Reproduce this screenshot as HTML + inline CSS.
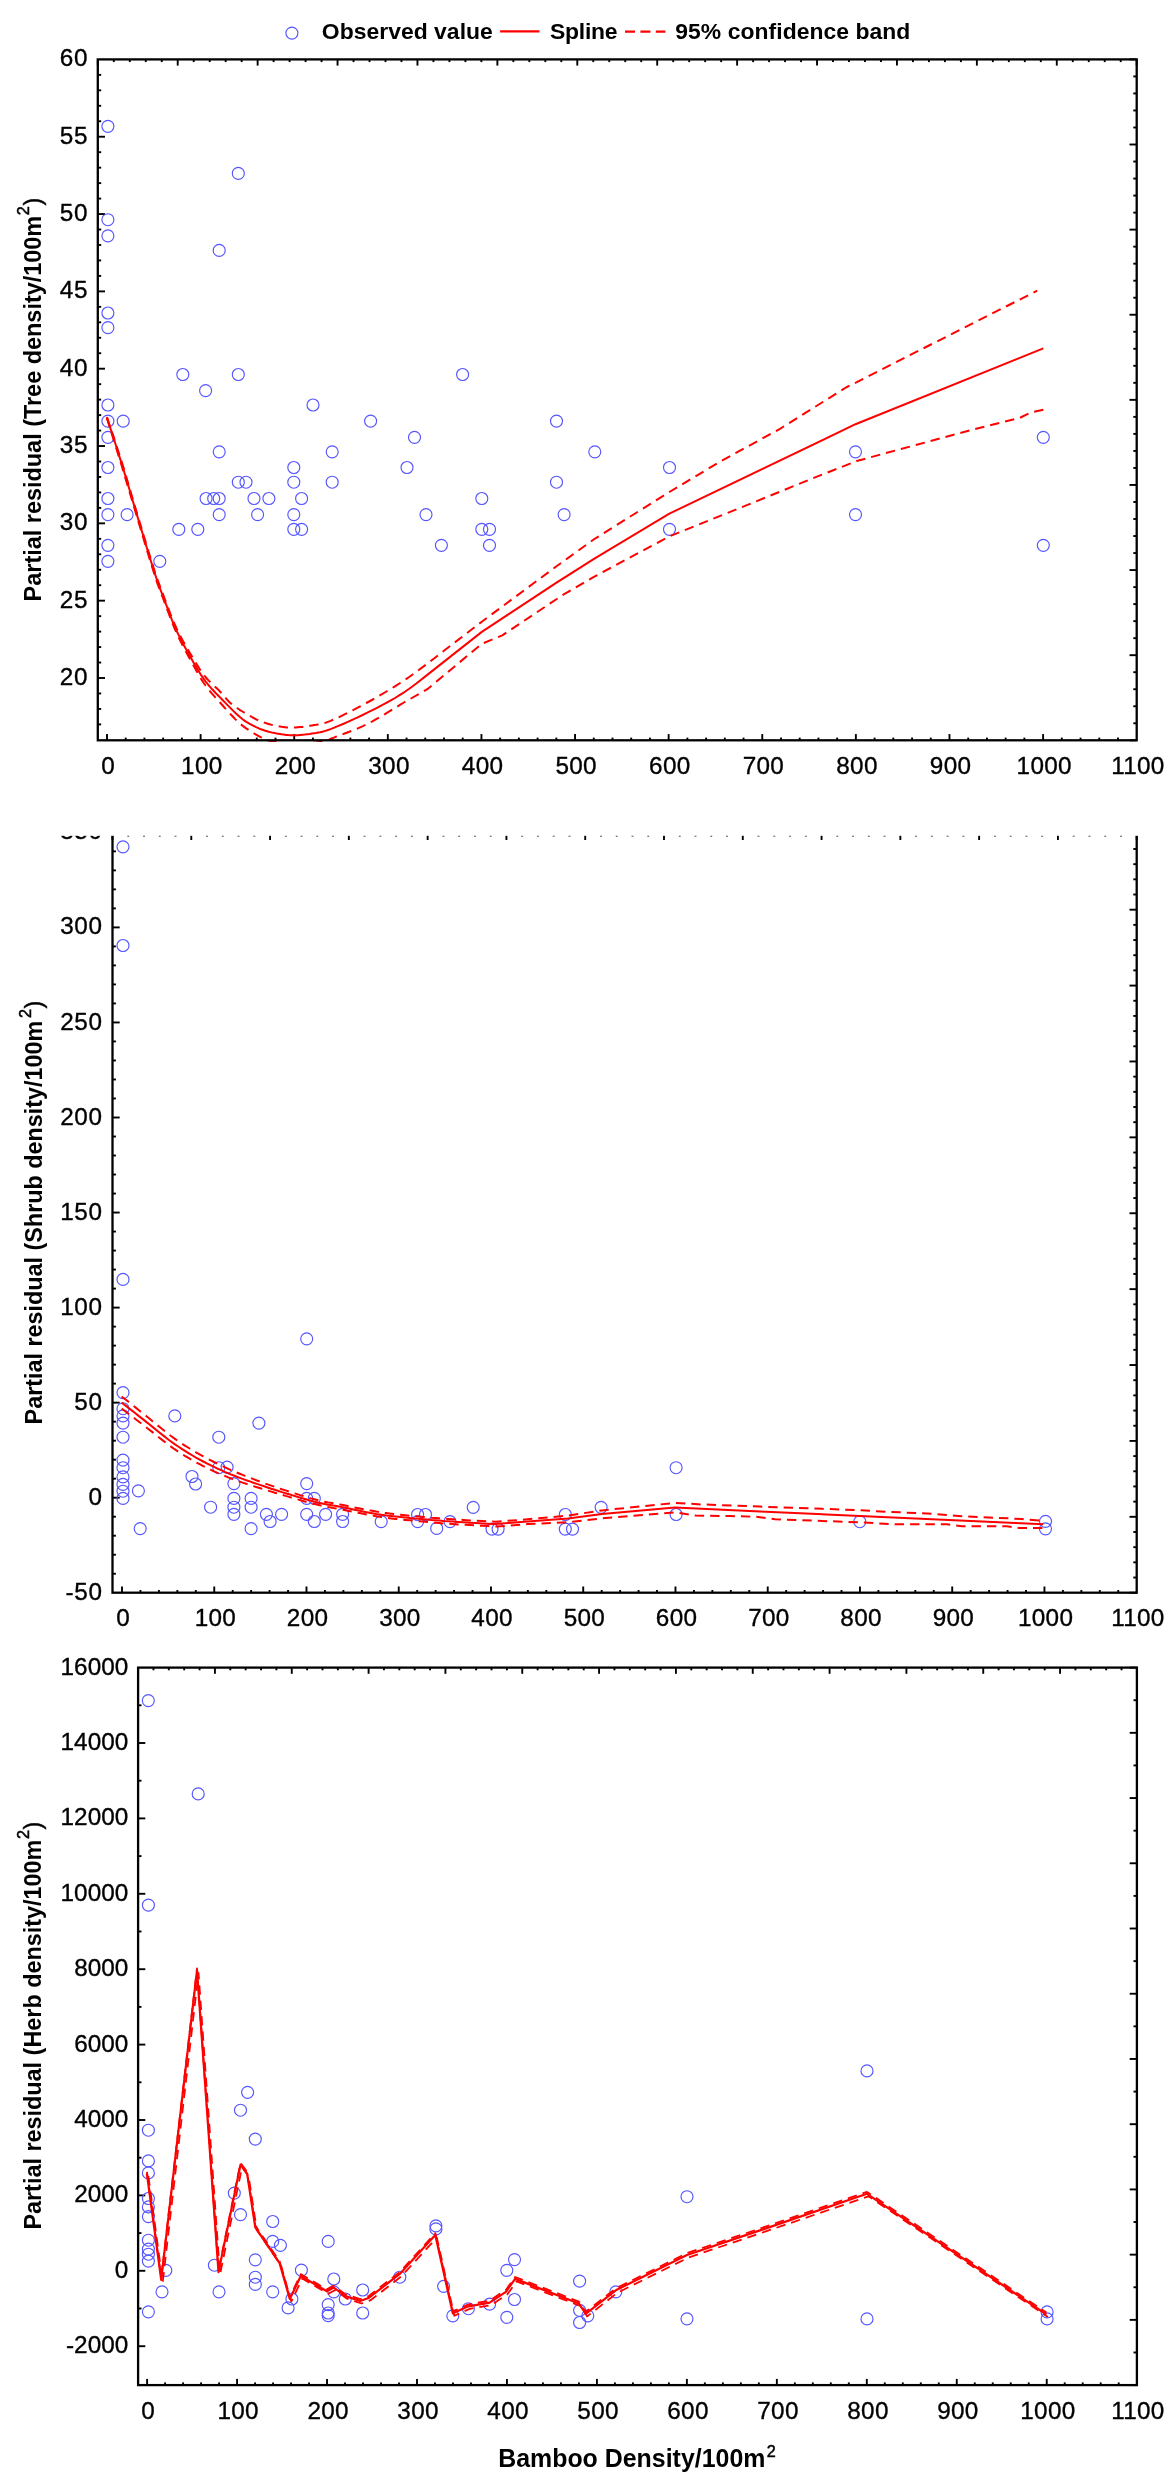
<!DOCTYPE html>
<html lang="en"><head><meta charset="utf-8"><title>Partial residual plots</title>
<style>html,body{margin:0;padding:0;background:#fff}svg{display:block}</style></head>
<body>
<svg width="1173" height="2482" viewBox="0 0 1173 2482">
<defs><clipPath id="c1"><rect x="90" y="50" width="1060" height="692"/></clipPath><filter id="soft" x="0" y="0" width="1173" height="2482" filterUnits="userSpaceOnUse"><feGaussianBlur stdDeviation="0.45"/></filter></defs>
<rect width="1173" height="2482" fill="#fff"/>
<g filter="url(#soft)">
<circle cx="291.9" cy="33.1" r="6" fill="none" stroke="#5555ff" stroke-width="1.15"/>
<text x="321.8" y="38.7" text-anchor="start" font-size="22.9" font-family="&apos;Liberation Sans&apos;, sans-serif" font-weight="bold" textLength="171">Observed value</text>
<line x1="500.10" y1="31.40" x2="539.50" y2="31.40" stroke="#ff0000" stroke-width="2.2"/>
<text x="550.0" y="38.7" text-anchor="start" font-size="22.9" font-family="&apos;Liberation Sans&apos;, sans-serif" font-weight="bold" textLength="67.6">Spline</text>
<line x1="625" y1="31.6" x2="665.4" y2="31.6" stroke="#ff0000" stroke-width="2.2" stroke-dasharray="10 5.4"/>
<text x="675.3" y="38.7" text-anchor="start" font-size="22.9" font-family="&apos;Liberation Sans&apos;, sans-serif" font-weight="bold" textLength="235">95% confidence band</text>
<line x1="97.80" y1="724.39" x2="101.20" y2="724.39" stroke="#000" stroke-width="1.9"/>
<line x1="97.80" y1="708.93" x2="101.20" y2="708.93" stroke="#000" stroke-width="1.9"/>
<line x1="97.80" y1="693.47" x2="101.20" y2="693.47" stroke="#000" stroke-width="1.9"/>
<line x1="97.80" y1="678.00" x2="105.00" y2="678.00" stroke="#000" stroke-width="1.9"/>
<line x1="97.80" y1="662.53" x2="101.20" y2="662.53" stroke="#000" stroke-width="1.9"/>
<line x1="97.80" y1="647.07" x2="101.20" y2="647.07" stroke="#000" stroke-width="1.9"/>
<line x1="97.80" y1="631.61" x2="101.20" y2="631.61" stroke="#000" stroke-width="1.9"/>
<line x1="97.80" y1="616.14" x2="101.20" y2="616.14" stroke="#000" stroke-width="1.9"/>
<line x1="97.80" y1="600.67" x2="105.00" y2="600.67" stroke="#000" stroke-width="1.9"/>
<line x1="97.80" y1="585.21" x2="101.20" y2="585.21" stroke="#000" stroke-width="1.9"/>
<line x1="97.80" y1="569.75" x2="101.20" y2="569.75" stroke="#000" stroke-width="1.9"/>
<line x1="97.80" y1="554.28" x2="101.20" y2="554.28" stroke="#000" stroke-width="1.9"/>
<line x1="97.80" y1="538.82" x2="101.20" y2="538.82" stroke="#000" stroke-width="1.9"/>
<line x1="97.80" y1="523.35" x2="105.00" y2="523.35" stroke="#000" stroke-width="1.9"/>
<line x1="97.80" y1="507.88" x2="101.20" y2="507.88" stroke="#000" stroke-width="1.9"/>
<line x1="97.80" y1="492.42" x2="101.20" y2="492.42" stroke="#000" stroke-width="1.9"/>
<line x1="97.80" y1="476.96" x2="101.20" y2="476.96" stroke="#000" stroke-width="1.9"/>
<line x1="97.80" y1="461.49" x2="101.20" y2="461.49" stroke="#000" stroke-width="1.9"/>
<line x1="97.80" y1="446.02" x2="105.00" y2="446.02" stroke="#000" stroke-width="1.9"/>
<line x1="97.80" y1="430.56" x2="101.20" y2="430.56" stroke="#000" stroke-width="1.9"/>
<line x1="97.80" y1="415.10" x2="101.20" y2="415.10" stroke="#000" stroke-width="1.9"/>
<line x1="97.80" y1="399.63" x2="101.20" y2="399.63" stroke="#000" stroke-width="1.9"/>
<line x1="97.80" y1="384.17" x2="101.20" y2="384.17" stroke="#000" stroke-width="1.9"/>
<line x1="97.80" y1="368.70" x2="105.00" y2="368.70" stroke="#000" stroke-width="1.9"/>
<line x1="97.80" y1="353.24" x2="101.20" y2="353.24" stroke="#000" stroke-width="1.9"/>
<line x1="97.80" y1="337.77" x2="101.20" y2="337.77" stroke="#000" stroke-width="1.9"/>
<line x1="97.80" y1="322.31" x2="101.20" y2="322.31" stroke="#000" stroke-width="1.9"/>
<line x1="97.80" y1="306.84" x2="101.20" y2="306.84" stroke="#000" stroke-width="1.9"/>
<line x1="97.80" y1="291.38" x2="105.00" y2="291.38" stroke="#000" stroke-width="1.9"/>
<line x1="97.80" y1="275.91" x2="101.20" y2="275.91" stroke="#000" stroke-width="1.9"/>
<line x1="97.80" y1="260.44" x2="101.20" y2="260.44" stroke="#000" stroke-width="1.9"/>
<line x1="97.80" y1="244.98" x2="101.20" y2="244.98" stroke="#000" stroke-width="1.9"/>
<line x1="97.80" y1="229.51" x2="101.20" y2="229.51" stroke="#000" stroke-width="1.9"/>
<line x1="97.80" y1="214.05" x2="105.00" y2="214.05" stroke="#000" stroke-width="1.9"/>
<line x1="97.80" y1="198.58" x2="101.20" y2="198.58" stroke="#000" stroke-width="1.9"/>
<line x1="97.80" y1="183.12" x2="101.20" y2="183.12" stroke="#000" stroke-width="1.9"/>
<line x1="97.80" y1="167.66" x2="101.20" y2="167.66" stroke="#000" stroke-width="1.9"/>
<line x1="97.80" y1="152.19" x2="101.20" y2="152.19" stroke="#000" stroke-width="1.9"/>
<line x1="97.80" y1="136.73" x2="105.00" y2="136.73" stroke="#000" stroke-width="1.9"/>
<line x1="97.80" y1="121.26" x2="101.20" y2="121.26" stroke="#000" stroke-width="1.9"/>
<line x1="97.80" y1="105.79" x2="101.20" y2="105.79" stroke="#000" stroke-width="1.9"/>
<line x1="97.80" y1="90.33" x2="101.20" y2="90.33" stroke="#000" stroke-width="1.9"/>
<line x1="97.80" y1="74.87" x2="101.20" y2="74.87" stroke="#000" stroke-width="1.9"/>
<line x1="107.00" y1="740.30" x2="107.00" y2="734.10" stroke="#000" stroke-width="1.9"/>
<line x1="125.72" y1="740.30" x2="125.72" y2="737.60" stroke="#000" stroke-width="1.9"/>
<line x1="144.44" y1="740.30" x2="144.44" y2="737.60" stroke="#000" stroke-width="1.9"/>
<line x1="163.17" y1="740.30" x2="163.17" y2="737.60" stroke="#000" stroke-width="1.9"/>
<line x1="181.89" y1="740.30" x2="181.89" y2="737.60" stroke="#000" stroke-width="1.9"/>
<line x1="200.61" y1="740.30" x2="200.61" y2="734.10" stroke="#000" stroke-width="1.9"/>
<line x1="219.33" y1="740.30" x2="219.33" y2="737.60" stroke="#000" stroke-width="1.9"/>
<line x1="238.05" y1="740.30" x2="238.05" y2="737.60" stroke="#000" stroke-width="1.9"/>
<line x1="256.77" y1="740.30" x2="256.77" y2="737.60" stroke="#000" stroke-width="1.9"/>
<line x1="275.50" y1="740.30" x2="275.50" y2="737.60" stroke="#000" stroke-width="1.9"/>
<line x1="294.22" y1="740.30" x2="294.22" y2="734.10" stroke="#000" stroke-width="1.9"/>
<line x1="312.94" y1="740.30" x2="312.94" y2="737.60" stroke="#000" stroke-width="1.9"/>
<line x1="331.66" y1="740.30" x2="331.66" y2="737.60" stroke="#000" stroke-width="1.9"/>
<line x1="350.38" y1="740.30" x2="350.38" y2="737.60" stroke="#000" stroke-width="1.9"/>
<line x1="369.11" y1="740.30" x2="369.11" y2="737.60" stroke="#000" stroke-width="1.9"/>
<line x1="387.83" y1="740.30" x2="387.83" y2="734.10" stroke="#000" stroke-width="1.9"/>
<line x1="406.55" y1="740.30" x2="406.55" y2="737.60" stroke="#000" stroke-width="1.9"/>
<line x1="425.27" y1="740.30" x2="425.27" y2="737.60" stroke="#000" stroke-width="1.9"/>
<line x1="443.99" y1="740.30" x2="443.99" y2="737.60" stroke="#000" stroke-width="1.9"/>
<line x1="462.71" y1="740.30" x2="462.71" y2="737.60" stroke="#000" stroke-width="1.9"/>
<line x1="481.44" y1="740.30" x2="481.44" y2="734.10" stroke="#000" stroke-width="1.9"/>
<line x1="500.16" y1="740.30" x2="500.16" y2="737.60" stroke="#000" stroke-width="1.9"/>
<line x1="518.88" y1="740.30" x2="518.88" y2="737.60" stroke="#000" stroke-width="1.9"/>
<line x1="537.60" y1="740.30" x2="537.60" y2="737.60" stroke="#000" stroke-width="1.9"/>
<line x1="556.32" y1="740.30" x2="556.32" y2="737.60" stroke="#000" stroke-width="1.9"/>
<line x1="575.05" y1="740.30" x2="575.05" y2="734.10" stroke="#000" stroke-width="1.9"/>
<line x1="593.77" y1="740.30" x2="593.77" y2="737.60" stroke="#000" stroke-width="1.9"/>
<line x1="612.49" y1="740.30" x2="612.49" y2="737.60" stroke="#000" stroke-width="1.9"/>
<line x1="631.21" y1="740.30" x2="631.21" y2="737.60" stroke="#000" stroke-width="1.9"/>
<line x1="649.93" y1="740.30" x2="649.93" y2="737.60" stroke="#000" stroke-width="1.9"/>
<line x1="668.65" y1="740.30" x2="668.65" y2="734.10" stroke="#000" stroke-width="1.9"/>
<line x1="687.38" y1="740.30" x2="687.38" y2="737.60" stroke="#000" stroke-width="1.9"/>
<line x1="706.10" y1="740.30" x2="706.10" y2="737.60" stroke="#000" stroke-width="1.9"/>
<line x1="724.82" y1="740.30" x2="724.82" y2="737.60" stroke="#000" stroke-width="1.9"/>
<line x1="743.54" y1="740.30" x2="743.54" y2="737.60" stroke="#000" stroke-width="1.9"/>
<line x1="762.26" y1="740.30" x2="762.26" y2="734.10" stroke="#000" stroke-width="1.9"/>
<line x1="780.99" y1="740.30" x2="780.99" y2="737.60" stroke="#000" stroke-width="1.9"/>
<line x1="799.71" y1="740.30" x2="799.71" y2="737.60" stroke="#000" stroke-width="1.9"/>
<line x1="818.43" y1="740.30" x2="818.43" y2="737.60" stroke="#000" stroke-width="1.9"/>
<line x1="837.15" y1="740.30" x2="837.15" y2="737.60" stroke="#000" stroke-width="1.9"/>
<line x1="855.87" y1="740.30" x2="855.87" y2="734.10" stroke="#000" stroke-width="1.9"/>
<line x1="874.59" y1="740.30" x2="874.59" y2="737.60" stroke="#000" stroke-width="1.9"/>
<line x1="893.32" y1="740.30" x2="893.32" y2="737.60" stroke="#000" stroke-width="1.9"/>
<line x1="912.04" y1="740.30" x2="912.04" y2="737.60" stroke="#000" stroke-width="1.9"/>
<line x1="930.76" y1="740.30" x2="930.76" y2="737.60" stroke="#000" stroke-width="1.9"/>
<line x1="949.48" y1="740.30" x2="949.48" y2="734.10" stroke="#000" stroke-width="1.9"/>
<line x1="968.20" y1="740.30" x2="968.20" y2="737.60" stroke="#000" stroke-width="1.9"/>
<line x1="986.93" y1="740.30" x2="986.93" y2="737.60" stroke="#000" stroke-width="1.9"/>
<line x1="1005.65" y1="740.30" x2="1005.65" y2="737.60" stroke="#000" stroke-width="1.9"/>
<line x1="1024.37" y1="740.30" x2="1024.37" y2="737.60" stroke="#000" stroke-width="1.9"/>
<line x1="1043.09" y1="740.30" x2="1043.09" y2="734.10" stroke="#000" stroke-width="1.9"/>
<line x1="1061.81" y1="740.30" x2="1061.81" y2="737.60" stroke="#000" stroke-width="1.9"/>
<line x1="1080.53" y1="740.30" x2="1080.53" y2="737.60" stroke="#000" stroke-width="1.9"/>
<line x1="1099.26" y1="740.30" x2="1099.26" y2="737.60" stroke="#000" stroke-width="1.9"/>
<line x1="1117.98" y1="740.30" x2="1117.98" y2="737.60" stroke="#000" stroke-width="1.9"/>
<line x1="97.80" y1="59.40" x2="97.80" y2="65.60" stroke="#000" stroke-width="1.9"/>
<line x1="113.78" y1="59.40" x2="113.78" y2="62.10" stroke="#000" stroke-width="1.9"/>
<line x1="129.77" y1="59.40" x2="129.77" y2="62.10" stroke="#000" stroke-width="1.9"/>
<line x1="145.75" y1="59.40" x2="145.75" y2="62.10" stroke="#000" stroke-width="1.9"/>
<line x1="161.73" y1="59.40" x2="161.73" y2="62.10" stroke="#000" stroke-width="1.9"/>
<line x1="177.72" y1="59.40" x2="177.72" y2="65.60" stroke="#000" stroke-width="1.9"/>
<line x1="193.70" y1="59.40" x2="193.70" y2="62.10" stroke="#000" stroke-width="1.9"/>
<line x1="209.68" y1="59.40" x2="209.68" y2="62.10" stroke="#000" stroke-width="1.9"/>
<line x1="225.66" y1="59.40" x2="225.66" y2="62.10" stroke="#000" stroke-width="1.9"/>
<line x1="241.65" y1="59.40" x2="241.65" y2="62.10" stroke="#000" stroke-width="1.9"/>
<line x1="257.63" y1="59.40" x2="257.63" y2="65.60" stroke="#000" stroke-width="1.9"/>
<line x1="273.61" y1="59.40" x2="273.61" y2="62.10" stroke="#000" stroke-width="1.9"/>
<line x1="289.60" y1="59.40" x2="289.60" y2="62.10" stroke="#000" stroke-width="1.9"/>
<line x1="305.58" y1="59.40" x2="305.58" y2="62.10" stroke="#000" stroke-width="1.9"/>
<line x1="321.56" y1="59.40" x2="321.56" y2="62.10" stroke="#000" stroke-width="1.9"/>
<line x1="337.55" y1="59.40" x2="337.55" y2="65.60" stroke="#000" stroke-width="1.9"/>
<line x1="353.53" y1="59.40" x2="353.53" y2="62.10" stroke="#000" stroke-width="1.9"/>
<line x1="369.51" y1="59.40" x2="369.51" y2="62.10" stroke="#000" stroke-width="1.9"/>
<line x1="385.50" y1="59.40" x2="385.50" y2="62.10" stroke="#000" stroke-width="1.9"/>
<line x1="401.48" y1="59.40" x2="401.48" y2="62.10" stroke="#000" stroke-width="1.9"/>
<line x1="417.46" y1="59.40" x2="417.46" y2="65.60" stroke="#000" stroke-width="1.9"/>
<line x1="433.44" y1="59.40" x2="433.44" y2="62.10" stroke="#000" stroke-width="1.9"/>
<line x1="449.43" y1="59.40" x2="449.43" y2="62.10" stroke="#000" stroke-width="1.9"/>
<line x1="465.41" y1="59.40" x2="465.41" y2="62.10" stroke="#000" stroke-width="1.9"/>
<line x1="481.39" y1="59.40" x2="481.39" y2="62.10" stroke="#000" stroke-width="1.9"/>
<line x1="497.38" y1="59.40" x2="497.38" y2="65.60" stroke="#000" stroke-width="1.9"/>
<line x1="513.36" y1="59.40" x2="513.36" y2="62.10" stroke="#000" stroke-width="1.9"/>
<line x1="529.34" y1="59.40" x2="529.34" y2="62.10" stroke="#000" stroke-width="1.9"/>
<line x1="545.33" y1="59.40" x2="545.33" y2="62.10" stroke="#000" stroke-width="1.9"/>
<line x1="561.31" y1="59.40" x2="561.31" y2="62.10" stroke="#000" stroke-width="1.9"/>
<line x1="577.29" y1="59.40" x2="577.29" y2="65.60" stroke="#000" stroke-width="1.9"/>
<line x1="593.28" y1="59.40" x2="593.28" y2="62.10" stroke="#000" stroke-width="1.9"/>
<line x1="609.26" y1="59.40" x2="609.26" y2="62.10" stroke="#000" stroke-width="1.9"/>
<line x1="625.24" y1="59.40" x2="625.24" y2="62.10" stroke="#000" stroke-width="1.9"/>
<line x1="641.22" y1="59.40" x2="641.22" y2="62.10" stroke="#000" stroke-width="1.9"/>
<line x1="657.21" y1="59.40" x2="657.21" y2="65.60" stroke="#000" stroke-width="1.9"/>
<line x1="673.19" y1="59.40" x2="673.19" y2="62.10" stroke="#000" stroke-width="1.9"/>
<line x1="689.17" y1="59.40" x2="689.17" y2="62.10" stroke="#000" stroke-width="1.9"/>
<line x1="705.16" y1="59.40" x2="705.16" y2="62.10" stroke="#000" stroke-width="1.9"/>
<line x1="721.14" y1="59.40" x2="721.14" y2="62.10" stroke="#000" stroke-width="1.9"/>
<line x1="737.12" y1="59.40" x2="737.12" y2="65.60" stroke="#000" stroke-width="1.9"/>
<line x1="753.11" y1="59.40" x2="753.11" y2="62.10" stroke="#000" stroke-width="1.9"/>
<line x1="769.09" y1="59.40" x2="769.09" y2="62.10" stroke="#000" stroke-width="1.9"/>
<line x1="785.07" y1="59.40" x2="785.07" y2="62.10" stroke="#000" stroke-width="1.9"/>
<line x1="801.06" y1="59.40" x2="801.06" y2="62.10" stroke="#000" stroke-width="1.9"/>
<line x1="817.04" y1="59.40" x2="817.04" y2="65.60" stroke="#000" stroke-width="1.9"/>
<line x1="833.02" y1="59.40" x2="833.02" y2="62.10" stroke="#000" stroke-width="1.9"/>
<line x1="849.00" y1="59.40" x2="849.00" y2="62.10" stroke="#000" stroke-width="1.9"/>
<line x1="864.99" y1="59.40" x2="864.99" y2="62.10" stroke="#000" stroke-width="1.9"/>
<line x1="880.97" y1="59.40" x2="880.97" y2="62.10" stroke="#000" stroke-width="1.9"/>
<line x1="896.95" y1="59.40" x2="896.95" y2="65.60" stroke="#000" stroke-width="1.9"/>
<line x1="912.94" y1="59.40" x2="912.94" y2="62.10" stroke="#000" stroke-width="1.9"/>
<line x1="928.92" y1="59.40" x2="928.92" y2="62.10" stroke="#000" stroke-width="1.9"/>
<line x1="944.90" y1="59.40" x2="944.90" y2="62.10" stroke="#000" stroke-width="1.9"/>
<line x1="960.89" y1="59.40" x2="960.89" y2="62.10" stroke="#000" stroke-width="1.9"/>
<line x1="976.87" y1="59.40" x2="976.87" y2="65.60" stroke="#000" stroke-width="1.9"/>
<line x1="992.85" y1="59.40" x2="992.85" y2="62.10" stroke="#000" stroke-width="1.9"/>
<line x1="1008.84" y1="59.40" x2="1008.84" y2="62.10" stroke="#000" stroke-width="1.9"/>
<line x1="1024.82" y1="59.40" x2="1024.82" y2="62.10" stroke="#000" stroke-width="1.9"/>
<line x1="1040.80" y1="59.40" x2="1040.80" y2="62.10" stroke="#000" stroke-width="1.9"/>
<line x1="1056.78" y1="59.40" x2="1056.78" y2="65.60" stroke="#000" stroke-width="1.9"/>
<line x1="1072.77" y1="59.40" x2="1072.77" y2="62.10" stroke="#000" stroke-width="1.9"/>
<line x1="1088.75" y1="59.40" x2="1088.75" y2="62.10" stroke="#000" stroke-width="1.9"/>
<line x1="1104.73" y1="59.40" x2="1104.73" y2="62.10" stroke="#000" stroke-width="1.9"/>
<line x1="1120.72" y1="59.40" x2="1120.72" y2="62.10" stroke="#000" stroke-width="1.9"/>
<line x1="1136.70" y1="59.40" x2="1136.70" y2="65.60" stroke="#000" stroke-width="1.9"/>
<line x1="1136.70" y1="59.40" x2="1129.50" y2="59.40" stroke="#000" stroke-width="1.9"/>
<line x1="1136.70" y1="76.42" x2="1133.30" y2="76.42" stroke="#000" stroke-width="1.9"/>
<line x1="1136.70" y1="93.44" x2="1133.30" y2="93.44" stroke="#000" stroke-width="1.9"/>
<line x1="1136.70" y1="110.47" x2="1133.30" y2="110.47" stroke="#000" stroke-width="1.9"/>
<line x1="1136.70" y1="127.49" x2="1133.30" y2="127.49" stroke="#000" stroke-width="1.9"/>
<line x1="1136.70" y1="144.51" x2="1129.50" y2="144.51" stroke="#000" stroke-width="1.9"/>
<line x1="1136.70" y1="161.53" x2="1133.30" y2="161.53" stroke="#000" stroke-width="1.9"/>
<line x1="1136.70" y1="178.56" x2="1133.30" y2="178.56" stroke="#000" stroke-width="1.9"/>
<line x1="1136.70" y1="195.58" x2="1133.30" y2="195.58" stroke="#000" stroke-width="1.9"/>
<line x1="1136.70" y1="212.60" x2="1133.30" y2="212.60" stroke="#000" stroke-width="1.9"/>
<line x1="1136.70" y1="229.62" x2="1129.50" y2="229.62" stroke="#000" stroke-width="1.9"/>
<line x1="1136.70" y1="246.65" x2="1133.30" y2="246.65" stroke="#000" stroke-width="1.9"/>
<line x1="1136.70" y1="263.67" x2="1133.30" y2="263.67" stroke="#000" stroke-width="1.9"/>
<line x1="1136.70" y1="280.69" x2="1133.30" y2="280.69" stroke="#000" stroke-width="1.9"/>
<line x1="1136.70" y1="297.71" x2="1133.30" y2="297.71" stroke="#000" stroke-width="1.9"/>
<line x1="1136.70" y1="314.74" x2="1129.50" y2="314.74" stroke="#000" stroke-width="1.9"/>
<line x1="1136.70" y1="331.76" x2="1133.30" y2="331.76" stroke="#000" stroke-width="1.9"/>
<line x1="1136.70" y1="348.78" x2="1133.30" y2="348.78" stroke="#000" stroke-width="1.9"/>
<line x1="1136.70" y1="365.80" x2="1133.30" y2="365.80" stroke="#000" stroke-width="1.9"/>
<line x1="1136.70" y1="382.83" x2="1133.30" y2="382.83" stroke="#000" stroke-width="1.9"/>
<line x1="1136.70" y1="399.85" x2="1129.50" y2="399.85" stroke="#000" stroke-width="1.9"/>
<line x1="1136.70" y1="416.87" x2="1133.30" y2="416.87" stroke="#000" stroke-width="1.9"/>
<line x1="1136.70" y1="433.89" x2="1133.30" y2="433.89" stroke="#000" stroke-width="1.9"/>
<line x1="1136.70" y1="450.92" x2="1133.30" y2="450.92" stroke="#000" stroke-width="1.9"/>
<line x1="1136.70" y1="467.94" x2="1133.30" y2="467.94" stroke="#000" stroke-width="1.9"/>
<line x1="1136.70" y1="484.96" x2="1129.50" y2="484.96" stroke="#000" stroke-width="1.9"/>
<line x1="1136.70" y1="501.98" x2="1133.30" y2="501.98" stroke="#000" stroke-width="1.9"/>
<line x1="1136.70" y1="519.01" x2="1133.30" y2="519.01" stroke="#000" stroke-width="1.9"/>
<line x1="1136.70" y1="536.03" x2="1133.30" y2="536.03" stroke="#000" stroke-width="1.9"/>
<line x1="1136.70" y1="553.05" x2="1133.30" y2="553.05" stroke="#000" stroke-width="1.9"/>
<line x1="1136.70" y1="570.08" x2="1129.50" y2="570.08" stroke="#000" stroke-width="1.9"/>
<line x1="1136.70" y1="587.10" x2="1133.30" y2="587.10" stroke="#000" stroke-width="1.9"/>
<line x1="1136.70" y1="604.12" x2="1133.30" y2="604.12" stroke="#000" stroke-width="1.9"/>
<line x1="1136.70" y1="621.14" x2="1133.30" y2="621.14" stroke="#000" stroke-width="1.9"/>
<line x1="1136.70" y1="638.16" x2="1133.30" y2="638.16" stroke="#000" stroke-width="1.9"/>
<line x1="1136.70" y1="655.19" x2="1129.50" y2="655.19" stroke="#000" stroke-width="1.9"/>
<line x1="1136.70" y1="672.21" x2="1133.30" y2="672.21" stroke="#000" stroke-width="1.9"/>
<line x1="1136.70" y1="689.23" x2="1133.30" y2="689.23" stroke="#000" stroke-width="1.9"/>
<line x1="1136.70" y1="706.25" x2="1133.30" y2="706.25" stroke="#000" stroke-width="1.9"/>
<line x1="1136.70" y1="723.28" x2="1133.30" y2="723.28" stroke="#000" stroke-width="1.9"/>
<line x1="1136.70" y1="740.30" x2="1129.50" y2="740.30" stroke="#000" stroke-width="1.9"/>
<text x="88.3" y="685.0" text-anchor="end" font-size="24.3" letter-spacing="0.8" font-family="&apos;Liberation Sans&apos;, sans-serif" stroke="#000" stroke-width="0.35">20</text>
<text x="88.3" y="607.7" text-anchor="end" font-size="24.3" letter-spacing="0.8" font-family="&apos;Liberation Sans&apos;, sans-serif" stroke="#000" stroke-width="0.35">25</text>
<text x="88.3" y="530.4" text-anchor="end" font-size="24.3" letter-spacing="0.8" font-family="&apos;Liberation Sans&apos;, sans-serif" stroke="#000" stroke-width="0.35">30</text>
<text x="88.3" y="453.0" text-anchor="end" font-size="24.3" letter-spacing="0.8" font-family="&apos;Liberation Sans&apos;, sans-serif" stroke="#000" stroke-width="0.35">35</text>
<text x="88.3" y="375.7" text-anchor="end" font-size="24.3" letter-spacing="0.8" font-family="&apos;Liberation Sans&apos;, sans-serif" stroke="#000" stroke-width="0.35">40</text>
<text x="88.3" y="298.4" text-anchor="end" font-size="24.3" letter-spacing="0.8" font-family="&apos;Liberation Sans&apos;, sans-serif" stroke="#000" stroke-width="0.35">45</text>
<text x="88.3" y="221.1" text-anchor="end" font-size="24.3" letter-spacing="0.8" font-family="&apos;Liberation Sans&apos;, sans-serif" stroke="#000" stroke-width="0.35">50</text>
<text x="88.3" y="143.7" text-anchor="end" font-size="24.3" letter-spacing="0.8" font-family="&apos;Liberation Sans&apos;, sans-serif" stroke="#000" stroke-width="0.35">55</text>
<text x="88.3" y="66.4" text-anchor="end" font-size="24.3" letter-spacing="0.8" font-family="&apos;Liberation Sans&apos;, sans-serif" stroke="#000" stroke-width="0.35">60</text>
<text x="108.2" y="774.4" text-anchor="middle" font-size="24.3" letter-spacing="0.3" font-family="&apos;Liberation Sans&apos;, sans-serif" stroke="#000" stroke-width="0.35">0</text>
<text x="201.8" y="774.4" text-anchor="middle" font-size="24.3" letter-spacing="0.3" font-family="&apos;Liberation Sans&apos;, sans-serif" stroke="#000" stroke-width="0.35">100</text>
<text x="295.4" y="774.4" text-anchor="middle" font-size="24.3" letter-spacing="0.3" font-family="&apos;Liberation Sans&apos;, sans-serif" stroke="#000" stroke-width="0.35">200</text>
<text x="389.0" y="774.4" text-anchor="middle" font-size="24.3" letter-spacing="0.3" font-family="&apos;Liberation Sans&apos;, sans-serif" stroke="#000" stroke-width="0.35">300</text>
<text x="482.6" y="774.4" text-anchor="middle" font-size="24.3" letter-spacing="0.3" font-family="&apos;Liberation Sans&apos;, sans-serif" stroke="#000" stroke-width="0.35">400</text>
<text x="576.2" y="774.4" text-anchor="middle" font-size="24.3" letter-spacing="0.3" font-family="&apos;Liberation Sans&apos;, sans-serif" stroke="#000" stroke-width="0.35">500</text>
<text x="669.8" y="774.4" text-anchor="middle" font-size="24.3" letter-spacing="0.3" font-family="&apos;Liberation Sans&apos;, sans-serif" stroke="#000" stroke-width="0.35">600</text>
<text x="763.4" y="774.4" text-anchor="middle" font-size="24.3" letter-spacing="0.3" font-family="&apos;Liberation Sans&apos;, sans-serif" stroke="#000" stroke-width="0.35">700</text>
<text x="857.0" y="774.4" text-anchor="middle" font-size="24.3" letter-spacing="0.3" font-family="&apos;Liberation Sans&apos;, sans-serif" stroke="#000" stroke-width="0.35">800</text>
<text x="950.6" y="774.4" text-anchor="middle" font-size="24.3" letter-spacing="0.3" font-family="&apos;Liberation Sans&apos;, sans-serif" stroke="#000" stroke-width="0.35">900</text>
<text x="1044.2" y="774.4" text-anchor="middle" font-size="24.3" letter-spacing="0.3" font-family="&apos;Liberation Sans&apos;, sans-serif" stroke="#000" stroke-width="0.35">1000</text>
<text x="1137.9" y="774.4" text-anchor="middle" font-size="24.3" letter-spacing="0.3" font-family="&apos;Liberation Sans&apos;, sans-serif" stroke="#000" stroke-width="0.35">1100</text>
<circle cx="107.9" cy="126.3" r="6.0" fill="none" stroke="#5555ff" stroke-width="1.15"/>
<circle cx="238.3" cy="173.4" r="6.0" fill="none" stroke="#5555ff" stroke-width="1.15"/>
<circle cx="107.9" cy="219.7" r="6.0" fill="none" stroke="#5555ff" stroke-width="1.15"/>
<circle cx="107.9" cy="235.8" r="6.0" fill="none" stroke="#5555ff" stroke-width="1.15"/>
<circle cx="219.2" cy="250.4" r="6.0" fill="none" stroke="#5555ff" stroke-width="1.15"/>
<circle cx="107.9" cy="313.0" r="6.0" fill="none" stroke="#5555ff" stroke-width="1.15"/>
<circle cx="107.9" cy="327.6" r="6.0" fill="none" stroke="#5555ff" stroke-width="1.15"/>
<circle cx="182.8" cy="374.5" r="6.0" fill="none" stroke="#5555ff" stroke-width="1.15"/>
<circle cx="238.3" cy="374.5" r="6.0" fill="none" stroke="#5555ff" stroke-width="1.15"/>
<circle cx="462.6" cy="374.5" r="6.0" fill="none" stroke="#5555ff" stroke-width="1.15"/>
<circle cx="205.6" cy="390.6" r="6.0" fill="none" stroke="#5555ff" stroke-width="1.15"/>
<circle cx="107.9" cy="405.0" r="6.0" fill="none" stroke="#5555ff" stroke-width="1.15"/>
<circle cx="313.0" cy="405.0" r="6.0" fill="none" stroke="#5555ff" stroke-width="1.15"/>
<circle cx="107.9" cy="421.1" r="6.0" fill="none" stroke="#5555ff" stroke-width="1.15"/>
<circle cx="123.2" cy="421.1" r="6.0" fill="none" stroke="#5555ff" stroke-width="1.15"/>
<circle cx="370.6" cy="421.1" r="6.0" fill="none" stroke="#5555ff" stroke-width="1.15"/>
<circle cx="556.5" cy="421.1" r="6.0" fill="none" stroke="#5555ff" stroke-width="1.15"/>
<circle cx="107.9" cy="437.3" r="6.0" fill="none" stroke="#5555ff" stroke-width="1.15"/>
<circle cx="414.5" cy="437.3" r="6.0" fill="none" stroke="#5555ff" stroke-width="1.15"/>
<circle cx="1043.3" cy="437.3" r="6.0" fill="none" stroke="#5555ff" stroke-width="1.15"/>
<circle cx="219.2" cy="451.8" r="6.0" fill="none" stroke="#5555ff" stroke-width="1.15"/>
<circle cx="332.2" cy="451.8" r="6.0" fill="none" stroke="#5555ff" stroke-width="1.15"/>
<circle cx="594.8" cy="451.8" r="6.0" fill="none" stroke="#5555ff" stroke-width="1.15"/>
<circle cx="855.5" cy="451.8" r="6.0" fill="none" stroke="#5555ff" stroke-width="1.15"/>
<circle cx="107.9" cy="467.5" r="6.0" fill="none" stroke="#5555ff" stroke-width="1.15"/>
<circle cx="293.8" cy="467.5" r="6.0" fill="none" stroke="#5555ff" stroke-width="1.15"/>
<circle cx="407.0" cy="467.5" r="6.0" fill="none" stroke="#5555ff" stroke-width="1.15"/>
<circle cx="669.5" cy="467.5" r="6.0" fill="none" stroke="#5555ff" stroke-width="1.15"/>
<circle cx="238.3" cy="482.2" r="6.0" fill="none" stroke="#5555ff" stroke-width="1.15"/>
<circle cx="246.0" cy="482.2" r="6.0" fill="none" stroke="#5555ff" stroke-width="1.15"/>
<circle cx="293.8" cy="482.2" r="6.0" fill="none" stroke="#5555ff" stroke-width="1.15"/>
<circle cx="332.2" cy="482.2" r="6.0" fill="none" stroke="#5555ff" stroke-width="1.15"/>
<circle cx="556.5" cy="482.2" r="6.0" fill="none" stroke="#5555ff" stroke-width="1.15"/>
<circle cx="107.9" cy="498.5" r="6.0" fill="none" stroke="#5555ff" stroke-width="1.15"/>
<circle cx="206.1" cy="498.5" r="6.0" fill="none" stroke="#5555ff" stroke-width="1.15"/>
<circle cx="213.7" cy="498.5" r="6.0" fill="none" stroke="#5555ff" stroke-width="1.15"/>
<circle cx="219.2" cy="498.5" r="6.0" fill="none" stroke="#5555ff" stroke-width="1.15"/>
<circle cx="254.0" cy="498.5" r="6.0" fill="none" stroke="#5555ff" stroke-width="1.15"/>
<circle cx="268.9" cy="498.5" r="6.0" fill="none" stroke="#5555ff" stroke-width="1.15"/>
<circle cx="301.6" cy="498.5" r="6.0" fill="none" stroke="#5555ff" stroke-width="1.15"/>
<circle cx="481.8" cy="498.5" r="6.0" fill="none" stroke="#5555ff" stroke-width="1.15"/>
<circle cx="107.9" cy="514.6" r="6.0" fill="none" stroke="#5555ff" stroke-width="1.15"/>
<circle cx="127.1" cy="514.6" r="6.0" fill="none" stroke="#5555ff" stroke-width="1.15"/>
<circle cx="219.2" cy="514.6" r="6.0" fill="none" stroke="#5555ff" stroke-width="1.15"/>
<circle cx="257.6" cy="514.6" r="6.0" fill="none" stroke="#5555ff" stroke-width="1.15"/>
<circle cx="293.8" cy="514.6" r="6.0" fill="none" stroke="#5555ff" stroke-width="1.15"/>
<circle cx="426.0" cy="514.6" r="6.0" fill="none" stroke="#5555ff" stroke-width="1.15"/>
<circle cx="564.1" cy="514.6" r="6.0" fill="none" stroke="#5555ff" stroke-width="1.15"/>
<circle cx="855.5" cy="514.6" r="6.0" fill="none" stroke="#5555ff" stroke-width="1.15"/>
<circle cx="178.8" cy="529.3" r="6.0" fill="none" stroke="#5555ff" stroke-width="1.15"/>
<circle cx="197.8" cy="529.3" r="6.0" fill="none" stroke="#5555ff" stroke-width="1.15"/>
<circle cx="293.8" cy="529.3" r="6.0" fill="none" stroke="#5555ff" stroke-width="1.15"/>
<circle cx="301.6" cy="529.3" r="6.0" fill="none" stroke="#5555ff" stroke-width="1.15"/>
<circle cx="481.8" cy="529.3" r="6.0" fill="none" stroke="#5555ff" stroke-width="1.15"/>
<circle cx="489.5" cy="529.3" r="6.0" fill="none" stroke="#5555ff" stroke-width="1.15"/>
<circle cx="669.5" cy="529.3" r="6.0" fill="none" stroke="#5555ff" stroke-width="1.15"/>
<circle cx="107.9" cy="545.3" r="6.0" fill="none" stroke="#5555ff" stroke-width="1.15"/>
<circle cx="441.4" cy="545.3" r="6.0" fill="none" stroke="#5555ff" stroke-width="1.15"/>
<circle cx="489.5" cy="545.3" r="6.0" fill="none" stroke="#5555ff" stroke-width="1.15"/>
<circle cx="1043.3" cy="545.3" r="6.0" fill="none" stroke="#5555ff" stroke-width="1.15"/>
<circle cx="107.9" cy="561.3" r="6.0" fill="none" stroke="#5555ff" stroke-width="1.15"/>
<circle cx="159.8" cy="561.3" r="6.0" fill="none" stroke="#5555ff" stroke-width="1.15"/>
<path d="M106.9,417.0 L108.0,420.4 L109.5,424.8 L111.3,430.1 L113.3,436.0 L115.4,442.3 L117.5,448.8 L119.6,455.3 L121.6,461.5 L123.5,467.6 L125.3,473.8 L127.2,480.1 L129.1,486.5 L131.0,493.0 L132.9,499.6 L134.9,506.3 L136.9,513.0 L139.0,520.1 L141.3,527.5 L143.6,535.2 L145.9,542.9 L148.2,550.5 L150.4,557.6 L152.5,564.2 L154.3,570.0 L155.9,574.9 L157.3,579.1 L158.6,582.7 L159.8,585.9 L160.9,588.9 L162.1,591.9 L163.3,595.0 L164.6,598.5 L166.0,602.2 L167.4,606.0 L168.9,609.8 L170.3,613.7 L171.8,617.5 L173.4,621.4 L175.1,625.2 L176.8,629.0 L178.7,632.8 L180.7,636.7 L182.8,640.6 L185.0,644.5 L187.2,648.3 L189.3,651.9 L191.3,655.3 L193.2,658.5 L194.9,661.4 L196.5,664.0 L198.0,666.4 L199.5,668.7 L200.9,670.8 L202.4,672.9 L203.9,675.0 L205.5,677.0 L207.2,679.0 L209.0,680.9 L210.9,682.8 L212.7,684.6 L214.6,686.3 L216.5,688.1 L218.3,689.8 L220.0,691.5 L221.6,693.2 L223.0,694.9 L224.4,696.5 L225.8,698.2 L227.2,699.8 L228.7,701.4 L230.4,703.0 L232.3,704.6 L234.5,706.3 L237.0,708.0 L239.6,709.8 L242.4,711.5 L245.1,713.2 L247.8,714.8 L250.4,716.2 L252.7,717.5 L254.8,718.6 L256.7,719.6 L258.6,720.4 L260.3,721.1 L262.0,721.8 L263.7,722.4 L265.3,722.9 L267.0,723.5 L268.7,724.0 L270.3,724.5 L271.9,724.9 L273.5,725.3 L275.1,725.6 L276.7,726.0 L278.4,726.2 L280.0,726.5 L281.6,726.8 L283.3,727.0 L284.9,727.2 L286.5,727.4 L288.2,727.5 L289.9,727.6 L291.8,727.6 L293.7,727.6 L295.8,727.5 L297.9,727.3 L300.2,727.1 L302.5,726.9 L304.9,726.5 L307.3,726.2 L309.7,725.8 L312.0,725.4 L314.2,725.0 L316.2,724.8 L318.1,724.5 L320.1,724.2 L322.2,723.7 L324.6,723.1 L327.3,722.1 L330.5,720.9 L334.2,719.3 L338.4,717.4 L343.0,715.2 L347.8,712.8 L352.7,710.3 L357.7,707.7 L362.6,705.1 L367.3,702.5 L371.9,700.0 L376.5,697.4 L381.1,694.7 L385.7,692.0 L390.3,689.2 L394.9,686.4 L399.4,683.5 L404.0,680.5 L408.8,677.2 L413.9,673.6 L419.1,669.7 L424.3,665.9 L481.8,621.7 L556.9,566.0 L594.4,539.0 L669.4,492.0 L720.5,461.4 L780.0,428.8 L846.0,387.5 L1037.2,290.7" fill="none" stroke="#ff0000" stroke-width="2" stroke-linejoin="round" stroke-dasharray="9.4 6" clip-path="url(#c1)"/>
<path d="M106.9,418.0 L108.0,421.6 L109.5,426.5 L111.3,432.2 L113.3,438.6 L115.4,445.3 L117.5,452.3 L119.6,459.1 L121.6,465.5 L123.5,471.7 L125.3,477.9 L127.2,484.1 L129.1,490.4 L131.0,496.7 L132.9,503.2 L134.9,509.8 L136.9,516.5 L139.0,523.6 L141.3,531.1 L143.6,538.9 L145.9,546.7 L148.2,554.3 L150.4,561.5 L152.5,568.2 L154.3,574.0 L155.9,578.9 L157.3,583.1 L158.6,586.7 L159.8,589.9 L160.9,592.9 L162.1,595.9 L163.3,599.0 L164.6,602.5 L166.0,606.3 L167.4,610.1 L168.9,613.9 L170.3,617.8 L171.8,621.7 L173.4,625.7 L175.1,629.6 L176.8,633.5 L178.7,637.5 L180.7,641.6 L182.8,645.8 L185.0,649.9 L187.2,654.0 L189.3,657.9 L191.3,661.6 L193.2,665.0 L194.9,668.1 L196.5,671.0 L198.0,673.6 L199.5,676.2 L200.9,678.6 L202.4,680.9 L203.9,683.2 L205.5,685.5 L207.2,687.8 L208.8,689.9 L210.5,691.9 L212.2,693.9 L214.0,695.9 L215.9,698.0 L217.9,700.2 L220.0,702.5 L222.3,705.0 L224.7,707.8 L227.2,710.6 L229.9,713.5 L232.5,716.3 L235.2,719.1 L237.9,721.7 L240.5,724.0 L243.1,726.1 L245.8,728.1 L248.6,730.0 L251.3,731.7 L253.9,733.3 L256.5,734.8 L258.8,736.1 L261.0,737.3 L262.8,738.3 L264.4,739.0 L265.7,739.6 L267.0,740.1 L268.2,740.4 L269.6,740.8 L271.1,741.1 L273.0,741.5 L275.1,741.9 L277.4,742.4 L279.8,742.8 L282.3,743.2 L285.0,743.5 L287.8,743.8 L290.7,743.9 L293.7,744.0 L297.0,743.9 L300.7,743.8 L304.6,743.5 L308.5,743.2 L312.4,742.8 L316.1,742.4 L319.5,741.9 L322.3,741.5 L324.5,741.1 L326.0,740.8 L327.2,740.4 L328.2,740.1 L329.2,739.6 L330.5,739.0 L332.2,738.3 L334.6,737.3 L337.7,736.1 L341.2,734.8 L345.2,733.3 L349.4,731.7 L353.8,730.0 L358.4,728.1 L362.9,726.1 L367.3,724.0 L371.9,721.6 L377.1,718.7 L382.4,715.6 L387.7,712.4 L392.7,709.3 L397.3,706.6 L401.1,704.2 L404.0,702.5 L427.3,689.2 L481.8,643.8 L502.3,635.3 L563.7,594.4 L594.4,576.6 L669.4,536.4 L780.0,491.7 L813.8,477.9 L856.7,461.0 L970.3,430.3 L1019.4,418.0 L1031.0,412.5 L1043.3,409.8" fill="none" stroke="#ff0000" stroke-width="2" stroke-linejoin="round" stroke-dasharray="9.4 6" clip-path="url(#c1)"/>
<path d="M106.9,417.4 L108.0,420.9 L109.5,425.5 L111.3,431.1 L113.3,437.2 L115.4,443.7 L117.5,450.5 L119.6,457.1 L121.6,463.4 L123.5,469.5 L125.3,475.7 L127.2,482.0 L129.1,488.3 L131.0,494.7 L132.9,501.2 L134.9,507.9 L136.9,514.6 L139.0,521.7 L141.3,529.2 L143.6,536.9 L145.9,544.7 L148.2,552.2 L150.4,559.5 L152.5,566.1 L154.3,571.9 L155.9,576.8 L157.3,581.0 L158.6,584.6 L159.8,587.9 L160.9,590.9 L162.1,593.9 L163.3,597.0 L164.6,600.5 L166.0,604.2 L167.4,608.0 L168.9,611.9 L170.3,615.7 L171.8,619.6 L173.4,623.5 L175.1,627.3 L176.8,631.2 L178.7,635.1 L180.7,639.1 L182.8,643.2 L185.0,647.3 L187.2,651.2 L189.3,655.0 L191.3,658.6 L193.2,661.9 L194.9,664.9 L196.5,667.6 L198.0,670.1 L199.5,672.5 L200.9,674.8 L202.4,676.9 L203.9,679.1 L205.5,681.3 L207.2,683.4 L208.8,685.5 L210.5,687.4 L212.2,689.3 L214.0,691.2 L215.9,693.2 L217.9,695.2 L220.0,697.4 L222.3,699.8 L224.9,702.4 L227.5,705.1 L230.3,707.9 L233.0,710.6 L235.7,713.2 L238.2,715.5 L240.5,717.5 L242.6,719.2 L244.5,720.6 L246.3,721.8 L248.1,722.9 L249.7,723.9 L251.3,724.7 L253.0,725.6 L254.6,726.4 L256.2,727.2 L257.8,727.9 L259.3,728.6 L260.9,729.2 L262.4,729.7 L263.9,730.2 L265.4,730.7 L267.0,731.2 L268.6,731.7 L270.2,732.1 L271.8,732.5 L273.4,732.8 L275.0,733.1 L276.7,733.5 L278.3,733.7 L280.0,734.0 L281.6,734.3 L283.3,734.5 L284.9,734.7 L286.5,734.9 L288.2,735.1 L289.9,735.2 L291.8,735.3 L293.7,735.3 L295.8,735.3 L297.9,735.2 L300.2,735.0 L302.5,734.8 L304.9,734.6 L307.3,734.3 L309.7,734.0 L312.0,733.6 L314.2,733.3 L316.2,733.0 L318.1,732.6 L320.1,732.3 L322.2,731.8 L324.6,731.1 L327.3,730.3 L330.5,729.1 L334.2,727.6 L338.4,725.9 L343.0,724.0 L347.8,721.9 L352.7,719.7 L357.7,717.4 L362.6,715.0 L367.3,712.7 L371.9,710.4 L376.5,708.1 L381.1,705.7 L385.8,703.2 L390.4,700.7 L395.0,698.0 L399.5,695.2 L404.1,692.3 L408.9,689.0 L414.0,685.2 L419.2,681.2 L424.4,677.1 L481.8,631.9 L556.9,582.4 L594.4,558.6 L669.4,513.6 L855.5,424.2 L1043.3,348.4" fill="none" stroke="#ff0000" stroke-width="2" stroke-linejoin="round"/>
<rect x="97.80" y="59.40" width="1038.90" height="680.90" fill="none" stroke="#000" stroke-width="2.3"/>
<text transform="translate(40.6,601.4) rotate(-90)" text-anchor="start" font-size="24.5" font-weight="bold" textLength="385.6" lengthAdjust="spacingAndGlyphs" font-family="&apos;Liberation Sans&apos;, sans-serif">Partial residual (Tree density/100m</text>
<text transform="translate(40.6,601.4) rotate(-90)" x="386.2" y="-11.8" font-size="16.2" stroke="#000" stroke-width="0.5" font-family="&apos;Liberation Sans&apos;, sans-serif">2</text>
<text transform="translate(40.6,601.4) rotate(-90)" x="395.8" y="0" font-size="23" stroke="#000" stroke-width="0.4" font-family="&apos;Liberation Sans&apos;, sans-serif">)</text>
<line x1="112.50" y1="1573.74" x2="115.90" y2="1573.74" stroke="#000" stroke-width="1.9"/>
<line x1="112.50" y1="1554.73" x2="115.90" y2="1554.73" stroke="#000" stroke-width="1.9"/>
<line x1="112.50" y1="1535.72" x2="115.90" y2="1535.72" stroke="#000" stroke-width="1.9"/>
<line x1="112.50" y1="1516.71" x2="115.90" y2="1516.71" stroke="#000" stroke-width="1.9"/>
<line x1="112.50" y1="1497.70" x2="119.70" y2="1497.70" stroke="#000" stroke-width="1.9"/>
<line x1="112.50" y1="1478.69" x2="115.90" y2="1478.69" stroke="#000" stroke-width="1.9"/>
<line x1="112.50" y1="1459.68" x2="115.90" y2="1459.68" stroke="#000" stroke-width="1.9"/>
<line x1="112.50" y1="1440.67" x2="115.90" y2="1440.67" stroke="#000" stroke-width="1.9"/>
<line x1="112.50" y1="1421.66" x2="115.90" y2="1421.66" stroke="#000" stroke-width="1.9"/>
<line x1="112.50" y1="1402.65" x2="119.70" y2="1402.65" stroke="#000" stroke-width="1.9"/>
<line x1="112.50" y1="1383.64" x2="115.90" y2="1383.64" stroke="#000" stroke-width="1.9"/>
<line x1="112.50" y1="1364.63" x2="115.90" y2="1364.63" stroke="#000" stroke-width="1.9"/>
<line x1="112.50" y1="1345.62" x2="115.90" y2="1345.62" stroke="#000" stroke-width="1.9"/>
<line x1="112.50" y1="1326.61" x2="115.90" y2="1326.61" stroke="#000" stroke-width="1.9"/>
<line x1="112.50" y1="1307.60" x2="119.70" y2="1307.60" stroke="#000" stroke-width="1.9"/>
<line x1="112.50" y1="1288.59" x2="115.90" y2="1288.59" stroke="#000" stroke-width="1.9"/>
<line x1="112.50" y1="1269.58" x2="115.90" y2="1269.58" stroke="#000" stroke-width="1.9"/>
<line x1="112.50" y1="1250.57" x2="115.90" y2="1250.57" stroke="#000" stroke-width="1.9"/>
<line x1="112.50" y1="1231.56" x2="115.90" y2="1231.56" stroke="#000" stroke-width="1.9"/>
<line x1="112.50" y1="1212.55" x2="119.70" y2="1212.55" stroke="#000" stroke-width="1.9"/>
<line x1="112.50" y1="1193.54" x2="115.90" y2="1193.54" stroke="#000" stroke-width="1.9"/>
<line x1="112.50" y1="1174.53" x2="115.90" y2="1174.53" stroke="#000" stroke-width="1.9"/>
<line x1="112.50" y1="1155.52" x2="115.90" y2="1155.52" stroke="#000" stroke-width="1.9"/>
<line x1="112.50" y1="1136.51" x2="115.90" y2="1136.51" stroke="#000" stroke-width="1.9"/>
<line x1="112.50" y1="1117.50" x2="119.70" y2="1117.50" stroke="#000" stroke-width="1.9"/>
<line x1="112.50" y1="1098.49" x2="115.90" y2="1098.49" stroke="#000" stroke-width="1.9"/>
<line x1="112.50" y1="1079.48" x2="115.90" y2="1079.48" stroke="#000" stroke-width="1.9"/>
<line x1="112.50" y1="1060.47" x2="115.90" y2="1060.47" stroke="#000" stroke-width="1.9"/>
<line x1="112.50" y1="1041.46" x2="115.90" y2="1041.46" stroke="#000" stroke-width="1.9"/>
<line x1="112.50" y1="1022.45" x2="119.70" y2="1022.45" stroke="#000" stroke-width="1.9"/>
<line x1="112.50" y1="1003.44" x2="115.90" y2="1003.44" stroke="#000" stroke-width="1.9"/>
<line x1="112.50" y1="984.43" x2="115.90" y2="984.43" stroke="#000" stroke-width="1.9"/>
<line x1="112.50" y1="965.42" x2="115.90" y2="965.42" stroke="#000" stroke-width="1.9"/>
<line x1="112.50" y1="946.41" x2="115.90" y2="946.41" stroke="#000" stroke-width="1.9"/>
<line x1="112.50" y1="927.40" x2="119.70" y2="927.40" stroke="#000" stroke-width="1.9"/>
<line x1="112.50" y1="908.39" x2="115.90" y2="908.39" stroke="#000" stroke-width="1.9"/>
<line x1="112.50" y1="889.38" x2="115.90" y2="889.38" stroke="#000" stroke-width="1.9"/>
<line x1="112.50" y1="870.37" x2="115.90" y2="870.37" stroke="#000" stroke-width="1.9"/>
<line x1="112.50" y1="851.36" x2="115.90" y2="851.36" stroke="#000" stroke-width="1.9"/>
<line x1="122.00" y1="1592.70" x2="122.00" y2="1586.50" stroke="#000" stroke-width="1.9"/>
<line x1="140.45" y1="1592.70" x2="140.45" y2="1590.00" stroke="#000" stroke-width="1.9"/>
<line x1="158.90" y1="1592.70" x2="158.90" y2="1590.00" stroke="#000" stroke-width="1.9"/>
<line x1="177.35" y1="1592.70" x2="177.35" y2="1590.00" stroke="#000" stroke-width="1.9"/>
<line x1="195.80" y1="1592.70" x2="195.80" y2="1590.00" stroke="#000" stroke-width="1.9"/>
<line x1="214.25" y1="1592.70" x2="214.25" y2="1586.50" stroke="#000" stroke-width="1.9"/>
<line x1="232.69" y1="1592.70" x2="232.69" y2="1590.00" stroke="#000" stroke-width="1.9"/>
<line x1="251.14" y1="1592.70" x2="251.14" y2="1590.00" stroke="#000" stroke-width="1.9"/>
<line x1="269.59" y1="1592.70" x2="269.59" y2="1590.00" stroke="#000" stroke-width="1.9"/>
<line x1="288.04" y1="1592.70" x2="288.04" y2="1590.00" stroke="#000" stroke-width="1.9"/>
<line x1="306.49" y1="1592.70" x2="306.49" y2="1586.50" stroke="#000" stroke-width="1.9"/>
<line x1="324.94" y1="1592.70" x2="324.94" y2="1590.00" stroke="#000" stroke-width="1.9"/>
<line x1="343.39" y1="1592.70" x2="343.39" y2="1590.00" stroke="#000" stroke-width="1.9"/>
<line x1="361.84" y1="1592.70" x2="361.84" y2="1590.00" stroke="#000" stroke-width="1.9"/>
<line x1="380.29" y1="1592.70" x2="380.29" y2="1590.00" stroke="#000" stroke-width="1.9"/>
<line x1="398.74" y1="1592.70" x2="398.74" y2="1586.50" stroke="#000" stroke-width="1.9"/>
<line x1="417.19" y1="1592.70" x2="417.19" y2="1590.00" stroke="#000" stroke-width="1.9"/>
<line x1="435.63" y1="1592.70" x2="435.63" y2="1590.00" stroke="#000" stroke-width="1.9"/>
<line x1="454.08" y1="1592.70" x2="454.08" y2="1590.00" stroke="#000" stroke-width="1.9"/>
<line x1="472.53" y1="1592.70" x2="472.53" y2="1590.00" stroke="#000" stroke-width="1.9"/>
<line x1="490.98" y1="1592.70" x2="490.98" y2="1586.50" stroke="#000" stroke-width="1.9"/>
<line x1="509.43" y1="1592.70" x2="509.43" y2="1590.00" stroke="#000" stroke-width="1.9"/>
<line x1="527.88" y1="1592.70" x2="527.88" y2="1590.00" stroke="#000" stroke-width="1.9"/>
<line x1="546.33" y1="1592.70" x2="546.33" y2="1590.00" stroke="#000" stroke-width="1.9"/>
<line x1="564.78" y1="1592.70" x2="564.78" y2="1590.00" stroke="#000" stroke-width="1.9"/>
<line x1="583.23" y1="1592.70" x2="583.23" y2="1586.50" stroke="#000" stroke-width="1.9"/>
<line x1="601.68" y1="1592.70" x2="601.68" y2="1590.00" stroke="#000" stroke-width="1.9"/>
<line x1="620.13" y1="1592.70" x2="620.13" y2="1590.00" stroke="#000" stroke-width="1.9"/>
<line x1="638.57" y1="1592.70" x2="638.57" y2="1590.00" stroke="#000" stroke-width="1.9"/>
<line x1="657.02" y1="1592.70" x2="657.02" y2="1590.00" stroke="#000" stroke-width="1.9"/>
<line x1="675.47" y1="1592.70" x2="675.47" y2="1586.50" stroke="#000" stroke-width="1.9"/>
<line x1="693.92" y1="1592.70" x2="693.92" y2="1590.00" stroke="#000" stroke-width="1.9"/>
<line x1="712.37" y1="1592.70" x2="712.37" y2="1590.00" stroke="#000" stroke-width="1.9"/>
<line x1="730.82" y1="1592.70" x2="730.82" y2="1590.00" stroke="#000" stroke-width="1.9"/>
<line x1="749.27" y1="1592.70" x2="749.27" y2="1590.00" stroke="#000" stroke-width="1.9"/>
<line x1="767.72" y1="1592.70" x2="767.72" y2="1586.50" stroke="#000" stroke-width="1.9"/>
<line x1="786.17" y1="1592.70" x2="786.17" y2="1590.00" stroke="#000" stroke-width="1.9"/>
<line x1="804.62" y1="1592.70" x2="804.62" y2="1590.00" stroke="#000" stroke-width="1.9"/>
<line x1="823.07" y1="1592.70" x2="823.07" y2="1590.00" stroke="#000" stroke-width="1.9"/>
<line x1="841.51" y1="1592.70" x2="841.51" y2="1590.00" stroke="#000" stroke-width="1.9"/>
<line x1="859.96" y1="1592.70" x2="859.96" y2="1586.50" stroke="#000" stroke-width="1.9"/>
<line x1="878.41" y1="1592.70" x2="878.41" y2="1590.00" stroke="#000" stroke-width="1.9"/>
<line x1="896.86" y1="1592.70" x2="896.86" y2="1590.00" stroke="#000" stroke-width="1.9"/>
<line x1="915.31" y1="1592.70" x2="915.31" y2="1590.00" stroke="#000" stroke-width="1.9"/>
<line x1="933.76" y1="1592.70" x2="933.76" y2="1590.00" stroke="#000" stroke-width="1.9"/>
<line x1="952.21" y1="1592.70" x2="952.21" y2="1586.50" stroke="#000" stroke-width="1.9"/>
<line x1="970.66" y1="1592.70" x2="970.66" y2="1590.00" stroke="#000" stroke-width="1.9"/>
<line x1="989.11" y1="1592.70" x2="989.11" y2="1590.00" stroke="#000" stroke-width="1.9"/>
<line x1="1007.56" y1="1592.70" x2="1007.56" y2="1590.00" stroke="#000" stroke-width="1.9"/>
<line x1="1026.01" y1="1592.70" x2="1026.01" y2="1590.00" stroke="#000" stroke-width="1.9"/>
<line x1="1044.45" y1="1592.70" x2="1044.45" y2="1586.50" stroke="#000" stroke-width="1.9"/>
<line x1="1062.90" y1="1592.70" x2="1062.90" y2="1590.00" stroke="#000" stroke-width="1.9"/>
<line x1="1081.35" y1="1592.70" x2="1081.35" y2="1590.00" stroke="#000" stroke-width="1.9"/>
<line x1="1099.80" y1="1592.70" x2="1099.80" y2="1590.00" stroke="#000" stroke-width="1.9"/>
<line x1="1118.25" y1="1592.70" x2="1118.25" y2="1590.00" stroke="#000" stroke-width="1.9"/>
<line x1="112.50" y1="833.80" x2="112.50" y2="840.00" stroke="#000" stroke-width="1.9"/>
<line x1="128.26" y1="833.80" x2="128.26" y2="836.50" stroke="#000" stroke-width="1.9"/>
<line x1="144.01" y1="833.80" x2="144.01" y2="836.50" stroke="#000" stroke-width="1.9"/>
<line x1="159.77" y1="833.80" x2="159.77" y2="836.50" stroke="#000" stroke-width="1.9"/>
<line x1="175.53" y1="833.80" x2="175.53" y2="836.50" stroke="#000" stroke-width="1.9"/>
<line x1="191.28" y1="833.80" x2="191.28" y2="840.00" stroke="#000" stroke-width="1.9"/>
<line x1="207.04" y1="833.80" x2="207.04" y2="836.50" stroke="#000" stroke-width="1.9"/>
<line x1="222.80" y1="833.80" x2="222.80" y2="836.50" stroke="#000" stroke-width="1.9"/>
<line x1="238.56" y1="833.80" x2="238.56" y2="836.50" stroke="#000" stroke-width="1.9"/>
<line x1="254.31" y1="833.80" x2="254.31" y2="836.50" stroke="#000" stroke-width="1.9"/>
<line x1="270.07" y1="833.80" x2="270.07" y2="840.00" stroke="#000" stroke-width="1.9"/>
<line x1="285.83" y1="833.80" x2="285.83" y2="836.50" stroke="#000" stroke-width="1.9"/>
<line x1="301.58" y1="833.80" x2="301.58" y2="836.50" stroke="#000" stroke-width="1.9"/>
<line x1="317.34" y1="833.80" x2="317.34" y2="836.50" stroke="#000" stroke-width="1.9"/>
<line x1="333.10" y1="833.80" x2="333.10" y2="836.50" stroke="#000" stroke-width="1.9"/>
<line x1="348.85" y1="833.80" x2="348.85" y2="840.00" stroke="#000" stroke-width="1.9"/>
<line x1="364.61" y1="833.80" x2="364.61" y2="836.50" stroke="#000" stroke-width="1.9"/>
<line x1="380.37" y1="833.80" x2="380.37" y2="836.50" stroke="#000" stroke-width="1.9"/>
<line x1="396.12" y1="833.80" x2="396.12" y2="836.50" stroke="#000" stroke-width="1.9"/>
<line x1="411.88" y1="833.80" x2="411.88" y2="836.50" stroke="#000" stroke-width="1.9"/>
<line x1="427.64" y1="833.80" x2="427.64" y2="840.00" stroke="#000" stroke-width="1.9"/>
<line x1="443.40" y1="833.80" x2="443.40" y2="836.50" stroke="#000" stroke-width="1.9"/>
<line x1="459.15" y1="833.80" x2="459.15" y2="836.50" stroke="#000" stroke-width="1.9"/>
<line x1="474.91" y1="833.80" x2="474.91" y2="836.50" stroke="#000" stroke-width="1.9"/>
<line x1="490.67" y1="833.80" x2="490.67" y2="836.50" stroke="#000" stroke-width="1.9"/>
<line x1="506.42" y1="833.80" x2="506.42" y2="840.00" stroke="#000" stroke-width="1.9"/>
<line x1="522.18" y1="833.80" x2="522.18" y2="836.50" stroke="#000" stroke-width="1.9"/>
<line x1="537.94" y1="833.80" x2="537.94" y2="836.50" stroke="#000" stroke-width="1.9"/>
<line x1="553.69" y1="833.80" x2="553.69" y2="836.50" stroke="#000" stroke-width="1.9"/>
<line x1="569.45" y1="833.80" x2="569.45" y2="836.50" stroke="#000" stroke-width="1.9"/>
<line x1="585.21" y1="833.80" x2="585.21" y2="840.00" stroke="#000" stroke-width="1.9"/>
<line x1="600.96" y1="833.80" x2="600.96" y2="836.50" stroke="#000" stroke-width="1.9"/>
<line x1="616.72" y1="833.80" x2="616.72" y2="836.50" stroke="#000" stroke-width="1.9"/>
<line x1="632.48" y1="833.80" x2="632.48" y2="836.50" stroke="#000" stroke-width="1.9"/>
<line x1="648.24" y1="833.80" x2="648.24" y2="836.50" stroke="#000" stroke-width="1.9"/>
<line x1="663.99" y1="833.80" x2="663.99" y2="840.00" stroke="#000" stroke-width="1.9"/>
<line x1="679.75" y1="833.80" x2="679.75" y2="836.50" stroke="#000" stroke-width="1.9"/>
<line x1="695.51" y1="833.80" x2="695.51" y2="836.50" stroke="#000" stroke-width="1.9"/>
<line x1="711.26" y1="833.80" x2="711.26" y2="836.50" stroke="#000" stroke-width="1.9"/>
<line x1="727.02" y1="833.80" x2="727.02" y2="836.50" stroke="#000" stroke-width="1.9"/>
<line x1="742.78" y1="833.80" x2="742.78" y2="840.00" stroke="#000" stroke-width="1.9"/>
<line x1="758.53" y1="833.80" x2="758.53" y2="836.50" stroke="#000" stroke-width="1.9"/>
<line x1="774.29" y1="833.80" x2="774.29" y2="836.50" stroke="#000" stroke-width="1.9"/>
<line x1="790.05" y1="833.80" x2="790.05" y2="836.50" stroke="#000" stroke-width="1.9"/>
<line x1="805.80" y1="833.80" x2="805.80" y2="836.50" stroke="#000" stroke-width="1.9"/>
<line x1="821.56" y1="833.80" x2="821.56" y2="840.00" stroke="#000" stroke-width="1.9"/>
<line x1="837.32" y1="833.80" x2="837.32" y2="836.50" stroke="#000" stroke-width="1.9"/>
<line x1="853.08" y1="833.80" x2="853.08" y2="836.50" stroke="#000" stroke-width="1.9"/>
<line x1="868.83" y1="833.80" x2="868.83" y2="836.50" stroke="#000" stroke-width="1.9"/>
<line x1="884.59" y1="833.80" x2="884.59" y2="836.50" stroke="#000" stroke-width="1.9"/>
<line x1="900.35" y1="833.80" x2="900.35" y2="840.00" stroke="#000" stroke-width="1.9"/>
<line x1="916.10" y1="833.80" x2="916.10" y2="836.50" stroke="#000" stroke-width="1.9"/>
<line x1="931.86" y1="833.80" x2="931.86" y2="836.50" stroke="#000" stroke-width="1.9"/>
<line x1="947.62" y1="833.80" x2="947.62" y2="836.50" stroke="#000" stroke-width="1.9"/>
<line x1="963.37" y1="833.80" x2="963.37" y2="836.50" stroke="#000" stroke-width="1.9"/>
<line x1="979.13" y1="833.80" x2="979.13" y2="840.00" stroke="#000" stroke-width="1.9"/>
<line x1="994.89" y1="833.80" x2="994.89" y2="836.50" stroke="#000" stroke-width="1.9"/>
<line x1="1010.64" y1="833.80" x2="1010.64" y2="836.50" stroke="#000" stroke-width="1.9"/>
<line x1="1026.40" y1="833.80" x2="1026.40" y2="836.50" stroke="#000" stroke-width="1.9"/>
<line x1="1042.16" y1="833.80" x2="1042.16" y2="836.50" stroke="#000" stroke-width="1.9"/>
<line x1="1057.92" y1="833.80" x2="1057.92" y2="840.00" stroke="#000" stroke-width="1.9"/>
<line x1="1073.67" y1="833.80" x2="1073.67" y2="836.50" stroke="#000" stroke-width="1.9"/>
<line x1="1089.43" y1="833.80" x2="1089.43" y2="836.50" stroke="#000" stroke-width="1.9"/>
<line x1="1105.19" y1="833.80" x2="1105.19" y2="836.50" stroke="#000" stroke-width="1.9"/>
<line x1="1120.94" y1="833.80" x2="1120.94" y2="836.50" stroke="#000" stroke-width="1.9"/>
<line x1="1136.70" y1="833.80" x2="1136.70" y2="840.00" stroke="#000" stroke-width="1.9"/>
<line x1="1136.70" y1="833.80" x2="1129.50" y2="833.80" stroke="#000" stroke-width="1.9"/>
<line x1="1136.70" y1="848.98" x2="1133.30" y2="848.98" stroke="#000" stroke-width="1.9"/>
<line x1="1136.70" y1="864.16" x2="1133.30" y2="864.16" stroke="#000" stroke-width="1.9"/>
<line x1="1136.70" y1="879.33" x2="1133.30" y2="879.33" stroke="#000" stroke-width="1.9"/>
<line x1="1136.70" y1="894.51" x2="1133.30" y2="894.51" stroke="#000" stroke-width="1.9"/>
<line x1="1136.70" y1="909.69" x2="1129.50" y2="909.69" stroke="#000" stroke-width="1.9"/>
<line x1="1136.70" y1="924.87" x2="1133.30" y2="924.87" stroke="#000" stroke-width="1.9"/>
<line x1="1136.70" y1="940.05" x2="1133.30" y2="940.05" stroke="#000" stroke-width="1.9"/>
<line x1="1136.70" y1="955.22" x2="1133.30" y2="955.22" stroke="#000" stroke-width="1.9"/>
<line x1="1136.70" y1="970.40" x2="1133.30" y2="970.40" stroke="#000" stroke-width="1.9"/>
<line x1="1136.70" y1="985.58" x2="1129.50" y2="985.58" stroke="#000" stroke-width="1.9"/>
<line x1="1136.70" y1="1000.76" x2="1133.30" y2="1000.76" stroke="#000" stroke-width="1.9"/>
<line x1="1136.70" y1="1015.94" x2="1133.30" y2="1015.94" stroke="#000" stroke-width="1.9"/>
<line x1="1136.70" y1="1031.11" x2="1133.30" y2="1031.11" stroke="#000" stroke-width="1.9"/>
<line x1="1136.70" y1="1046.29" x2="1133.30" y2="1046.29" stroke="#000" stroke-width="1.9"/>
<line x1="1136.70" y1="1061.47" x2="1129.50" y2="1061.47" stroke="#000" stroke-width="1.9"/>
<line x1="1136.70" y1="1076.65" x2="1133.30" y2="1076.65" stroke="#000" stroke-width="1.9"/>
<line x1="1136.70" y1="1091.83" x2="1133.30" y2="1091.83" stroke="#000" stroke-width="1.9"/>
<line x1="1136.70" y1="1107.00" x2="1133.30" y2="1107.00" stroke="#000" stroke-width="1.9"/>
<line x1="1136.70" y1="1122.18" x2="1133.30" y2="1122.18" stroke="#000" stroke-width="1.9"/>
<line x1="1136.70" y1="1137.36" x2="1129.50" y2="1137.36" stroke="#000" stroke-width="1.9"/>
<line x1="1136.70" y1="1152.54" x2="1133.30" y2="1152.54" stroke="#000" stroke-width="1.9"/>
<line x1="1136.70" y1="1167.72" x2="1133.30" y2="1167.72" stroke="#000" stroke-width="1.9"/>
<line x1="1136.70" y1="1182.89" x2="1133.30" y2="1182.89" stroke="#000" stroke-width="1.9"/>
<line x1="1136.70" y1="1198.07" x2="1133.30" y2="1198.07" stroke="#000" stroke-width="1.9"/>
<line x1="1136.70" y1="1213.25" x2="1129.50" y2="1213.25" stroke="#000" stroke-width="1.9"/>
<line x1="1136.70" y1="1228.43" x2="1133.30" y2="1228.43" stroke="#000" stroke-width="1.9"/>
<line x1="1136.70" y1="1243.61" x2="1133.30" y2="1243.61" stroke="#000" stroke-width="1.9"/>
<line x1="1136.70" y1="1258.78" x2="1133.30" y2="1258.78" stroke="#000" stroke-width="1.9"/>
<line x1="1136.70" y1="1273.96" x2="1133.30" y2="1273.96" stroke="#000" stroke-width="1.9"/>
<line x1="1136.70" y1="1289.14" x2="1129.50" y2="1289.14" stroke="#000" stroke-width="1.9"/>
<line x1="1136.70" y1="1304.32" x2="1133.30" y2="1304.32" stroke="#000" stroke-width="1.9"/>
<line x1="1136.70" y1="1319.50" x2="1133.30" y2="1319.50" stroke="#000" stroke-width="1.9"/>
<line x1="1136.70" y1="1334.67" x2="1133.30" y2="1334.67" stroke="#000" stroke-width="1.9"/>
<line x1="1136.70" y1="1349.85" x2="1133.30" y2="1349.85" stroke="#000" stroke-width="1.9"/>
<line x1="1136.70" y1="1365.03" x2="1129.50" y2="1365.03" stroke="#000" stroke-width="1.9"/>
<line x1="1136.70" y1="1380.21" x2="1133.30" y2="1380.21" stroke="#000" stroke-width="1.9"/>
<line x1="1136.70" y1="1395.39" x2="1133.30" y2="1395.39" stroke="#000" stroke-width="1.9"/>
<line x1="1136.70" y1="1410.56" x2="1133.30" y2="1410.56" stroke="#000" stroke-width="1.9"/>
<line x1="1136.70" y1="1425.74" x2="1133.30" y2="1425.74" stroke="#000" stroke-width="1.9"/>
<line x1="1136.70" y1="1440.92" x2="1129.50" y2="1440.92" stroke="#000" stroke-width="1.9"/>
<line x1="1136.70" y1="1456.10" x2="1133.30" y2="1456.10" stroke="#000" stroke-width="1.9"/>
<line x1="1136.70" y1="1471.28" x2="1133.30" y2="1471.28" stroke="#000" stroke-width="1.9"/>
<line x1="1136.70" y1="1486.45" x2="1133.30" y2="1486.45" stroke="#000" stroke-width="1.9"/>
<line x1="1136.70" y1="1501.63" x2="1133.30" y2="1501.63" stroke="#000" stroke-width="1.9"/>
<line x1="1136.70" y1="1516.81" x2="1129.50" y2="1516.81" stroke="#000" stroke-width="1.9"/>
<line x1="1136.70" y1="1531.99" x2="1133.30" y2="1531.99" stroke="#000" stroke-width="1.9"/>
<line x1="1136.70" y1="1547.17" x2="1133.30" y2="1547.17" stroke="#000" stroke-width="1.9"/>
<line x1="1136.70" y1="1562.34" x2="1133.30" y2="1562.34" stroke="#000" stroke-width="1.9"/>
<line x1="1136.70" y1="1577.52" x2="1133.30" y2="1577.52" stroke="#000" stroke-width="1.9"/>
<line x1="1136.70" y1="1592.70" x2="1129.50" y2="1592.70" stroke="#000" stroke-width="1.9"/>
<text x="102.8" y="1599.8" text-anchor="end" font-size="24.3" letter-spacing="0.7" font-family="&apos;Liberation Sans&apos;, sans-serif" stroke="#000" stroke-width="0.35">-50</text>
<text x="102.8" y="1504.7" text-anchor="end" font-size="24.3" letter-spacing="0.7" font-family="&apos;Liberation Sans&apos;, sans-serif" stroke="#000" stroke-width="0.35">0</text>
<text x="102.8" y="1409.7" text-anchor="end" font-size="24.3" letter-spacing="0.7" font-family="&apos;Liberation Sans&apos;, sans-serif" stroke="#000" stroke-width="0.35">50</text>
<text x="102.8" y="1314.6" text-anchor="end" font-size="24.3" letter-spacing="0.7" font-family="&apos;Liberation Sans&apos;, sans-serif" stroke="#000" stroke-width="0.35">100</text>
<text x="102.8" y="1219.6" text-anchor="end" font-size="24.3" letter-spacing="0.7" font-family="&apos;Liberation Sans&apos;, sans-serif" stroke="#000" stroke-width="0.35">150</text>
<text x="102.8" y="1124.5" text-anchor="end" font-size="24.3" letter-spacing="0.7" font-family="&apos;Liberation Sans&apos;, sans-serif" stroke="#000" stroke-width="0.35">200</text>
<text x="102.8" y="1029.5" text-anchor="end" font-size="24.3" letter-spacing="0.7" font-family="&apos;Liberation Sans&apos;, sans-serif" stroke="#000" stroke-width="0.35">250</text>
<text x="102.8" y="934.4" text-anchor="end" font-size="24.3" letter-spacing="0.7" font-family="&apos;Liberation Sans&apos;, sans-serif" stroke="#000" stroke-width="0.35">300</text>
<text x="102.8" y="839.4" text-anchor="end" font-size="24.3" letter-spacing="0.7" font-family="&apos;Liberation Sans&apos;, sans-serif" stroke="#000" stroke-width="0.35">350</text>
<text x="123.2" y="1626.0" text-anchor="middle" font-size="24.3" letter-spacing="0.3" font-family="&apos;Liberation Sans&apos;, sans-serif" stroke="#000" stroke-width="0.35">0</text>
<text x="215.4" y="1626.0" text-anchor="middle" font-size="24.3" letter-spacing="0.3" font-family="&apos;Liberation Sans&apos;, sans-serif" stroke="#000" stroke-width="0.35">100</text>
<text x="307.6" y="1626.0" text-anchor="middle" font-size="24.3" letter-spacing="0.3" font-family="&apos;Liberation Sans&apos;, sans-serif" stroke="#000" stroke-width="0.35">200</text>
<text x="399.9" y="1626.0" text-anchor="middle" font-size="24.3" letter-spacing="0.3" font-family="&apos;Liberation Sans&apos;, sans-serif" stroke="#000" stroke-width="0.35">300</text>
<text x="492.1" y="1626.0" text-anchor="middle" font-size="24.3" letter-spacing="0.3" font-family="&apos;Liberation Sans&apos;, sans-serif" stroke="#000" stroke-width="0.35">400</text>
<text x="584.4" y="1626.0" text-anchor="middle" font-size="24.3" letter-spacing="0.3" font-family="&apos;Liberation Sans&apos;, sans-serif" stroke="#000" stroke-width="0.35">500</text>
<text x="676.6" y="1626.0" text-anchor="middle" font-size="24.3" letter-spacing="0.3" font-family="&apos;Liberation Sans&apos;, sans-serif" stroke="#000" stroke-width="0.35">600</text>
<text x="768.9" y="1626.0" text-anchor="middle" font-size="24.3" letter-spacing="0.3" font-family="&apos;Liberation Sans&apos;, sans-serif" stroke="#000" stroke-width="0.35">700</text>
<text x="861.1" y="1626.0" text-anchor="middle" font-size="24.3" letter-spacing="0.3" font-family="&apos;Liberation Sans&apos;, sans-serif" stroke="#000" stroke-width="0.35">800</text>
<text x="953.4" y="1626.0" text-anchor="middle" font-size="24.3" letter-spacing="0.3" font-family="&apos;Liberation Sans&apos;, sans-serif" stroke="#000" stroke-width="0.35">900</text>
<text x="1045.6" y="1626.0" text-anchor="middle" font-size="24.3" letter-spacing="0.3" font-family="&apos;Liberation Sans&apos;, sans-serif" stroke="#000" stroke-width="0.35">1000</text>
<text x="1137.9" y="1626.0" text-anchor="middle" font-size="24.3" letter-spacing="0.3" font-family="&apos;Liberation Sans&apos;, sans-serif" stroke="#000" stroke-width="0.35">1100</text>
<circle cx="123.0" cy="846.8" r="6.0" fill="none" stroke="#5555ff" stroke-width="1.15"/>
<circle cx="123.0" cy="945.5" r="6.0" fill="none" stroke="#5555ff" stroke-width="1.15"/>
<circle cx="123.0" cy="1279.4" r="6.0" fill="none" stroke="#5555ff" stroke-width="1.15"/>
<circle cx="306.7" cy="1338.8" r="6.0" fill="none" stroke="#5555ff" stroke-width="1.15"/>
<circle cx="123.0" cy="1392.6" r="6.0" fill="none" stroke="#5555ff" stroke-width="1.15"/>
<circle cx="123.0" cy="1408.7" r="6.0" fill="none" stroke="#5555ff" stroke-width="1.15"/>
<circle cx="123.0" cy="1415.9" r="6.0" fill="none" stroke="#5555ff" stroke-width="1.15"/>
<circle cx="123.0" cy="1423.1" r="6.0" fill="none" stroke="#5555ff" stroke-width="1.15"/>
<circle cx="123.0" cy="1437.2" r="6.0" fill="none" stroke="#5555ff" stroke-width="1.15"/>
<circle cx="123.0" cy="1460.1" r="6.0" fill="none" stroke="#5555ff" stroke-width="1.15"/>
<circle cx="123.0" cy="1467.7" r="6.0" fill="none" stroke="#5555ff" stroke-width="1.15"/>
<circle cx="123.0" cy="1476.9" r="6.0" fill="none" stroke="#5555ff" stroke-width="1.15"/>
<circle cx="123.0" cy="1484.4" r="6.0" fill="none" stroke="#5555ff" stroke-width="1.15"/>
<circle cx="123.0" cy="1491.2" r="6.0" fill="none" stroke="#5555ff" stroke-width="1.15"/>
<circle cx="123.0" cy="1498.4" r="6.0" fill="none" stroke="#5555ff" stroke-width="1.15"/>
<circle cx="138.4" cy="1490.8" r="6.0" fill="none" stroke="#5555ff" stroke-width="1.15"/>
<circle cx="140.2" cy="1528.6" r="6.0" fill="none" stroke="#5555ff" stroke-width="1.15"/>
<circle cx="174.8" cy="1415.9" r="6.0" fill="none" stroke="#5555ff" stroke-width="1.15"/>
<circle cx="192.0" cy="1476.5" r="6.0" fill="none" stroke="#5555ff" stroke-width="1.15"/>
<circle cx="195.6" cy="1484.0" r="6.0" fill="none" stroke="#5555ff" stroke-width="1.15"/>
<circle cx="210.6" cy="1507.2" r="6.0" fill="none" stroke="#5555ff" stroke-width="1.15"/>
<circle cx="218.8" cy="1437.2" r="6.0" fill="none" stroke="#5555ff" stroke-width="1.15"/>
<circle cx="218.8" cy="1467.7" r="6.0" fill="none" stroke="#5555ff" stroke-width="1.15"/>
<circle cx="227.1" cy="1467.1" r="6.0" fill="none" stroke="#5555ff" stroke-width="1.15"/>
<circle cx="233.9" cy="1483.6" r="6.0" fill="none" stroke="#5555ff" stroke-width="1.15"/>
<circle cx="233.9" cy="1498.4" r="6.0" fill="none" stroke="#5555ff" stroke-width="1.15"/>
<circle cx="233.9" cy="1507.2" r="6.0" fill="none" stroke="#5555ff" stroke-width="1.15"/>
<circle cx="233.9" cy="1514.3" r="6.0" fill="none" stroke="#5555ff" stroke-width="1.15"/>
<circle cx="251.1" cy="1498.4" r="6.0" fill="none" stroke="#5555ff" stroke-width="1.15"/>
<circle cx="251.1" cy="1507.2" r="6.0" fill="none" stroke="#5555ff" stroke-width="1.15"/>
<circle cx="251.1" cy="1528.6" r="6.0" fill="none" stroke="#5555ff" stroke-width="1.15"/>
<circle cx="258.9" cy="1423.1" r="6.0" fill="none" stroke="#5555ff" stroke-width="1.15"/>
<circle cx="266.4" cy="1514.3" r="6.0" fill="none" stroke="#5555ff" stroke-width="1.15"/>
<circle cx="270.1" cy="1521.5" r="6.0" fill="none" stroke="#5555ff" stroke-width="1.15"/>
<circle cx="281.6" cy="1514.3" r="6.0" fill="none" stroke="#5555ff" stroke-width="1.15"/>
<circle cx="306.7" cy="1483.6" r="6.0" fill="none" stroke="#5555ff" stroke-width="1.15"/>
<circle cx="306.7" cy="1498.4" r="6.0" fill="none" stroke="#5555ff" stroke-width="1.15"/>
<circle cx="314.3" cy="1498.4" r="6.0" fill="none" stroke="#5555ff" stroke-width="1.15"/>
<circle cx="306.7" cy="1514.3" r="6.0" fill="none" stroke="#5555ff" stroke-width="1.15"/>
<circle cx="314.3" cy="1521.5" r="6.0" fill="none" stroke="#5555ff" stroke-width="1.15"/>
<circle cx="325.6" cy="1514.3" r="6.0" fill="none" stroke="#5555ff" stroke-width="1.15"/>
<circle cx="342.6" cy="1514.3" r="6.0" fill="none" stroke="#5555ff" stroke-width="1.15"/>
<circle cx="342.6" cy="1521.5" r="6.0" fill="none" stroke="#5555ff" stroke-width="1.15"/>
<circle cx="381.2" cy="1521.6" r="6.0" fill="none" stroke="#5555ff" stroke-width="1.15"/>
<circle cx="417.6" cy="1514.5" r="6.0" fill="none" stroke="#5555ff" stroke-width="1.15"/>
<circle cx="417.6" cy="1521.6" r="6.0" fill="none" stroke="#5555ff" stroke-width="1.15"/>
<circle cx="425.5" cy="1514.5" r="6.0" fill="none" stroke="#5555ff" stroke-width="1.15"/>
<circle cx="436.7" cy="1528.4" r="6.0" fill="none" stroke="#5555ff" stroke-width="1.15"/>
<circle cx="450.0" cy="1521.6" r="6.0" fill="none" stroke="#5555ff" stroke-width="1.15"/>
<circle cx="473.2" cy="1507.3" r="6.0" fill="none" stroke="#5555ff" stroke-width="1.15"/>
<circle cx="492.0" cy="1529.1" r="6.0" fill="none" stroke="#5555ff" stroke-width="1.15"/>
<circle cx="498.1" cy="1529.1" r="6.0" fill="none" stroke="#5555ff" stroke-width="1.15"/>
<circle cx="565.3" cy="1514.5" r="6.0" fill="none" stroke="#5555ff" stroke-width="1.15"/>
<circle cx="565.3" cy="1529.1" r="6.0" fill="none" stroke="#5555ff" stroke-width="1.15"/>
<circle cx="572.5" cy="1529.1" r="6.0" fill="none" stroke="#5555ff" stroke-width="1.15"/>
<circle cx="601.1" cy="1507.3" r="6.0" fill="none" stroke="#5555ff" stroke-width="1.15"/>
<circle cx="676.1" cy="1467.7" r="6.0" fill="none" stroke="#5555ff" stroke-width="1.15"/>
<circle cx="676.1" cy="1514.5" r="6.0" fill="none" stroke="#5555ff" stroke-width="1.15"/>
<circle cx="859.8" cy="1521.7" r="6.0" fill="none" stroke="#5555ff" stroke-width="1.15"/>
<circle cx="1045.5" cy="1521.3" r="6.0" fill="none" stroke="#5555ff" stroke-width="1.15"/>
<circle cx="1045.5" cy="1528.8" r="6.0" fill="none" stroke="#5555ff" stroke-width="1.15"/>
<path d="M121.6,1396.4 L123.4,1397.9 L125.9,1399.8 L128.7,1402.1 L132.0,1404.7 L135.4,1407.4 L138.9,1410.3 L142.5,1413.1 L145.9,1415.8 L149.3,1418.5 L152.8,1421.4 L156.3,1424.3 L160.0,1427.3 L163.7,1430.3 L167.3,1433.2 L171.0,1436.0 L174.6,1438.6 L178.2,1441.1 L181.8,1443.5 L185.3,1445.8 L188.9,1448.0 L192.5,1450.2 L196.0,1452.3 L199.6,1454.3 L203.2,1456.3 L206.8,1458.3 L210.4,1460.2 L214.0,1462.0 L217.5,1463.8 L221.1,1465.5 L224.7,1467.2 L228.3,1468.8 L231.9,1470.4 L235.5,1472.0 L239.1,1473.5 L242.6,1474.9 L246.2,1476.4 L249.8,1477.7 L253.4,1479.1 L256.9,1480.5 L260.5,1481.8 L264.1,1483.1 L267.6,1484.4 L271.2,1485.6 L274.8,1486.8 L278.4,1488.1 L281.9,1489.3 L285.5,1490.4 L289.1,1491.6 L292.7,1492.8 L296.4,1493.9 L300.1,1495.1 L303.9,1496.2 L307.5,1497.3 L311.1,1498.4 L314.5,1499.3 L317.8,1500.2 L320.8,1500.9 L323.4,1501.5 L325.8,1501.9 L328.1,1502.4 L330.6,1502.8 L333.3,1503.3 L336.4,1503.8 L340.0,1504.5 L344.3,1505.3 L349.1,1506.3 L354.3,1507.4 L359.7,1508.5 L365.3,1509.6 L370.8,1510.6 L376.2,1511.6 L381.3,1512.4 L386.2,1513.1 L391.0,1513.7 L395.8,1514.3 L400.5,1514.8 L405.2,1515.2 L409.8,1515.7 L414.3,1516.1 L418.8,1516.5 L423.1,1516.9 L427.3,1517.3 L431.3,1517.7 L435.3,1518.0 L439.3,1518.3 L443.5,1518.7 L447.9,1519.0 L452.5,1519.3 L457.7,1519.6 L463.6,1520.0 L469.9,1520.4 L476.2,1520.7 L482.2,1521.1 L487.7,1521.4 L492.3,1521.6 L495.7,1521.8 L527.5,1519.3 L568.1,1515.6 L601.9,1510.4 L675.0,1502.9 L701.0,1504.4 L760.0,1506.6 L861.0,1510.2 L876.0,1511.2 L932.0,1513.8 L962.0,1516.2 L1022.0,1519.0 L1043.2,1521.0" fill="none" stroke="#ff0000" stroke-width="2" stroke-linejoin="round" stroke-dasharray="9.4 6"/>
<path d="M121.6,1408.6 L123.4,1410.0 L125.9,1411.8 L128.7,1414.0 L132.0,1416.4 L135.4,1419.0 L138.9,1421.7 L142.5,1424.4 L145.9,1427.0 L149.3,1429.7 L152.8,1432.4 L156.3,1435.3 L160.0,1438.2 L163.7,1441.1 L167.3,1443.9 L171.0,1446.6 L174.6,1449.2 L178.2,1451.6 L181.8,1453.9 L185.3,1456.1 L188.9,1458.2 L192.5,1460.3 L196.0,1462.3 L199.6,1464.2 L203.2,1466.1 L206.8,1467.9 L210.4,1469.6 L214.0,1471.3 L217.5,1472.9 L221.1,1474.4 L224.7,1475.9 L228.3,1477.4 L231.9,1478.8 L235.5,1480.1 L239.1,1481.4 L242.6,1482.6 L246.2,1483.8 L249.8,1484.9 L253.4,1486.1 L256.9,1487.2 L260.5,1488.3 L264.1,1489.4 L267.6,1490.5 L271.2,1491.6 L274.8,1492.7 L278.4,1493.8 L281.9,1494.8 L285.5,1495.9 L289.1,1496.9 L292.7,1498.0 L296.4,1499.0 L300.1,1500.1 L303.9,1501.2 L307.5,1502.2 L311.1,1503.1 L314.5,1504.0 L317.8,1504.8 L320.8,1505.5 L323.4,1506.1 L325.8,1506.5 L328.1,1507.0 L330.6,1507.4 L333.3,1507.9 L336.4,1508.4 L340.0,1509.1 L344.3,1510.0 L349.1,1510.9 L354.3,1512.0 L359.7,1513.1 L365.3,1514.2 L370.8,1515.3 L376.2,1516.2 L381.3,1517.1 L386.2,1517.8 L391.0,1518.4 L395.8,1518.9 L400.5,1519.4 L405.2,1519.9 L409.8,1520.3 L414.3,1520.8 L418.8,1521.2 L423.1,1521.6 L427.3,1522.0 L431.3,1522.4 L435.3,1522.7 L439.3,1523.0 L443.5,1523.4 L447.9,1523.7 L452.5,1524.0 L457.7,1524.4 L463.6,1524.7 L469.9,1525.1 L476.2,1525.5 L482.2,1525.8 L487.7,1526.1 L492.3,1526.4 L495.7,1526.6 L527.5,1524.1 L568.1,1522.2 L601.9,1518.4 L675.0,1512.3 L695.7,1515.6 L730.0,1516.0 L756.0,1516.8 L775.0,1519.2 L861.0,1522.4 L895.0,1524.3 L947.0,1524.3 L962.0,1526.2 L1007.0,1526.2 L1019.0,1528.0 L1043.2,1528.0" fill="none" stroke="#ff0000" stroke-width="2" stroke-linejoin="round" stroke-dasharray="9.4 6"/>
<path d="M121.6,1402.5 L123.4,1404.0 L125.9,1405.9 L128.7,1408.1 L132.0,1410.6 L135.4,1413.3 L138.9,1416.1 L142.5,1418.9 L145.9,1421.6 L149.3,1424.3 L152.8,1427.1 L156.3,1430.0 L160.0,1433.0 L163.7,1435.9 L167.3,1438.8 L171.0,1441.5 L174.6,1444.1 L178.2,1446.5 L181.8,1448.9 L185.3,1451.2 L188.9,1453.4 L192.5,1455.5 L196.0,1457.6 L199.6,1459.6 L203.2,1461.5 L206.8,1463.4 L210.4,1465.2 L214.0,1466.9 L217.5,1468.6 L221.1,1470.2 L224.7,1471.8 L228.3,1473.3 L231.9,1474.8 L235.5,1476.2 L239.1,1477.6 L242.6,1478.9 L246.2,1480.2 L249.8,1481.4 L253.4,1482.7 L256.9,1483.9 L260.5,1485.1 L264.1,1486.3 L267.6,1487.5 L271.2,1488.7 L274.8,1489.8 L278.4,1491.0 L281.9,1492.1 L285.5,1493.2 L289.1,1494.3 L292.7,1495.4 L296.4,1496.5 L300.1,1497.6 L303.9,1498.7 L307.5,1499.8 L311.1,1500.7 L314.5,1501.7 L317.8,1502.5 L320.8,1503.2 L323.4,1503.8 L325.8,1504.2 L328.1,1504.7 L330.6,1505.1 L333.3,1505.6 L336.4,1506.1 L340.0,1506.8 L344.3,1507.6 L349.1,1508.6 L354.3,1509.7 L359.7,1510.8 L365.3,1511.9 L370.8,1512.9 L376.2,1513.9 L381.3,1514.7 L386.2,1515.4 L391.0,1516.0 L395.8,1516.6 L400.5,1517.1 L405.2,1517.5 L409.8,1518.0 L414.3,1518.4 L418.8,1518.8 L423.1,1519.2 L427.3,1519.6 L431.3,1520.0 L435.3,1520.3 L439.3,1520.6 L443.5,1521.0 L447.9,1521.3 L452.5,1521.6 L457.7,1521.9 L463.6,1522.3 L469.9,1522.7 L476.2,1523.0 L482.2,1523.4 L487.7,1523.7 L492.3,1523.9 L495.7,1524.1 L527.5,1521.6 L568.1,1518.4 L601.9,1514.1 L675.0,1507.6 L760.0,1511.5 L859.8,1516.0 L1043.2,1524.3" fill="none" stroke="#ff0000" stroke-width="2" stroke-linejoin="round"/>
<rect x="112.50" y="833.80" width="1024.20" height="758.90" fill="none" stroke="#000" stroke-width="2.3"/>
<text transform="translate(41.9,1424.4) rotate(-90)" text-anchor="start" font-size="24.5" font-weight="bold" textLength="403.7" lengthAdjust="spacingAndGlyphs" font-family="&apos;Liberation Sans&apos;, sans-serif">Partial residual (Shrub density/100m</text>
<text transform="translate(41.9,1424.4) rotate(-90)" x="406.4" y="-11.0" font-size="16.2" stroke="#000" stroke-width="0.5" font-family="&apos;Liberation Sans&apos;, sans-serif">2</text>
<text transform="translate(41.9,1424.4) rotate(-90)" x="415.8" y="0" font-size="23" stroke="#000" stroke-width="0.4" font-family="&apos;Liberation Sans&apos;, sans-serif">)</text>
<rect x="0" y="800" width="1173" height="35.8" fill="#fff"/>
<line x1="138.10" y1="2346.20" x2="145.30" y2="2346.20" stroke="#000" stroke-width="1.9"/>
<line x1="138.10" y1="2308.50" x2="141.50" y2="2308.50" stroke="#000" stroke-width="1.9"/>
<line x1="138.10" y1="2270.80" x2="145.30" y2="2270.80" stroke="#000" stroke-width="1.9"/>
<line x1="138.10" y1="2233.10" x2="141.50" y2="2233.10" stroke="#000" stroke-width="1.9"/>
<line x1="138.10" y1="2195.40" x2="145.30" y2="2195.40" stroke="#000" stroke-width="1.9"/>
<line x1="138.10" y1="2157.70" x2="141.50" y2="2157.70" stroke="#000" stroke-width="1.9"/>
<line x1="138.10" y1="2120.00" x2="145.30" y2="2120.00" stroke="#000" stroke-width="1.9"/>
<line x1="138.10" y1="2082.30" x2="141.50" y2="2082.30" stroke="#000" stroke-width="1.9"/>
<line x1="138.10" y1="2044.60" x2="145.30" y2="2044.60" stroke="#000" stroke-width="1.9"/>
<line x1="138.10" y1="2006.90" x2="141.50" y2="2006.90" stroke="#000" stroke-width="1.9"/>
<line x1="138.10" y1="1969.20" x2="145.30" y2="1969.20" stroke="#000" stroke-width="1.9"/>
<line x1="138.10" y1="1931.50" x2="141.50" y2="1931.50" stroke="#000" stroke-width="1.9"/>
<line x1="138.10" y1="1893.80" x2="145.30" y2="1893.80" stroke="#000" stroke-width="1.9"/>
<line x1="138.10" y1="1856.10" x2="141.50" y2="1856.10" stroke="#000" stroke-width="1.9"/>
<line x1="138.10" y1="1818.40" x2="145.30" y2="1818.40" stroke="#000" stroke-width="1.9"/>
<line x1="138.10" y1="1780.70" x2="141.50" y2="1780.70" stroke="#000" stroke-width="1.9"/>
<line x1="138.10" y1="1743.00" x2="145.30" y2="1743.00" stroke="#000" stroke-width="1.9"/>
<line x1="138.10" y1="1705.30" x2="141.50" y2="1705.30" stroke="#000" stroke-width="1.9"/>
<line x1="147.10" y1="2385.10" x2="147.10" y2="2378.90" stroke="#000" stroke-width="1.9"/>
<line x1="165.09" y1="2385.10" x2="165.09" y2="2382.40" stroke="#000" stroke-width="1.9"/>
<line x1="183.09" y1="2385.10" x2="183.09" y2="2382.40" stroke="#000" stroke-width="1.9"/>
<line x1="201.08" y1="2385.10" x2="201.08" y2="2382.40" stroke="#000" stroke-width="1.9"/>
<line x1="219.07" y1="2385.10" x2="219.07" y2="2382.40" stroke="#000" stroke-width="1.9"/>
<line x1="237.06" y1="2385.10" x2="237.06" y2="2378.90" stroke="#000" stroke-width="1.9"/>
<line x1="255.06" y1="2385.10" x2="255.06" y2="2382.40" stroke="#000" stroke-width="1.9"/>
<line x1="273.05" y1="2385.10" x2="273.05" y2="2382.40" stroke="#000" stroke-width="1.9"/>
<line x1="291.04" y1="2385.10" x2="291.04" y2="2382.40" stroke="#000" stroke-width="1.9"/>
<line x1="309.03" y1="2385.10" x2="309.03" y2="2382.40" stroke="#000" stroke-width="1.9"/>
<line x1="327.03" y1="2385.10" x2="327.03" y2="2378.90" stroke="#000" stroke-width="1.9"/>
<line x1="345.02" y1="2385.10" x2="345.02" y2="2382.40" stroke="#000" stroke-width="1.9"/>
<line x1="363.01" y1="2385.10" x2="363.01" y2="2382.40" stroke="#000" stroke-width="1.9"/>
<line x1="381.01" y1="2385.10" x2="381.01" y2="2382.40" stroke="#000" stroke-width="1.9"/>
<line x1="399.00" y1="2385.10" x2="399.00" y2="2382.40" stroke="#000" stroke-width="1.9"/>
<line x1="416.99" y1="2385.10" x2="416.99" y2="2378.90" stroke="#000" stroke-width="1.9"/>
<line x1="434.98" y1="2385.10" x2="434.98" y2="2382.40" stroke="#000" stroke-width="1.9"/>
<line x1="452.98" y1="2385.10" x2="452.98" y2="2382.40" stroke="#000" stroke-width="1.9"/>
<line x1="470.97" y1="2385.10" x2="470.97" y2="2382.40" stroke="#000" stroke-width="1.9"/>
<line x1="488.96" y1="2385.10" x2="488.96" y2="2382.40" stroke="#000" stroke-width="1.9"/>
<line x1="506.95" y1="2385.10" x2="506.95" y2="2378.90" stroke="#000" stroke-width="1.9"/>
<line x1="524.95" y1="2385.10" x2="524.95" y2="2382.40" stroke="#000" stroke-width="1.9"/>
<line x1="542.94" y1="2385.10" x2="542.94" y2="2382.40" stroke="#000" stroke-width="1.9"/>
<line x1="560.93" y1="2385.10" x2="560.93" y2="2382.40" stroke="#000" stroke-width="1.9"/>
<line x1="578.93" y1="2385.10" x2="578.93" y2="2382.40" stroke="#000" stroke-width="1.9"/>
<line x1="596.92" y1="2385.10" x2="596.92" y2="2378.90" stroke="#000" stroke-width="1.9"/>
<line x1="614.91" y1="2385.10" x2="614.91" y2="2382.40" stroke="#000" stroke-width="1.9"/>
<line x1="632.90" y1="2385.10" x2="632.90" y2="2382.40" stroke="#000" stroke-width="1.9"/>
<line x1="650.90" y1="2385.10" x2="650.90" y2="2382.40" stroke="#000" stroke-width="1.9"/>
<line x1="668.89" y1="2385.10" x2="668.89" y2="2382.40" stroke="#000" stroke-width="1.9"/>
<line x1="686.88" y1="2385.10" x2="686.88" y2="2378.90" stroke="#000" stroke-width="1.9"/>
<line x1="704.87" y1="2385.10" x2="704.87" y2="2382.40" stroke="#000" stroke-width="1.9"/>
<line x1="722.87" y1="2385.10" x2="722.87" y2="2382.40" stroke="#000" stroke-width="1.9"/>
<line x1="740.86" y1="2385.10" x2="740.86" y2="2382.40" stroke="#000" stroke-width="1.9"/>
<line x1="758.85" y1="2385.10" x2="758.85" y2="2382.40" stroke="#000" stroke-width="1.9"/>
<line x1="776.85" y1="2385.10" x2="776.85" y2="2378.90" stroke="#000" stroke-width="1.9"/>
<line x1="794.84" y1="2385.10" x2="794.84" y2="2382.40" stroke="#000" stroke-width="1.9"/>
<line x1="812.83" y1="2385.10" x2="812.83" y2="2382.40" stroke="#000" stroke-width="1.9"/>
<line x1="830.82" y1="2385.10" x2="830.82" y2="2382.40" stroke="#000" stroke-width="1.9"/>
<line x1="848.82" y1="2385.10" x2="848.82" y2="2382.40" stroke="#000" stroke-width="1.9"/>
<line x1="866.81" y1="2385.10" x2="866.81" y2="2378.90" stroke="#000" stroke-width="1.9"/>
<line x1="884.80" y1="2385.10" x2="884.80" y2="2382.40" stroke="#000" stroke-width="1.9"/>
<line x1="902.79" y1="2385.10" x2="902.79" y2="2382.40" stroke="#000" stroke-width="1.9"/>
<line x1="920.79" y1="2385.10" x2="920.79" y2="2382.40" stroke="#000" stroke-width="1.9"/>
<line x1="938.78" y1="2385.10" x2="938.78" y2="2382.40" stroke="#000" stroke-width="1.9"/>
<line x1="956.77" y1="2385.10" x2="956.77" y2="2378.90" stroke="#000" stroke-width="1.9"/>
<line x1="974.77" y1="2385.10" x2="974.77" y2="2382.40" stroke="#000" stroke-width="1.9"/>
<line x1="992.76" y1="2385.10" x2="992.76" y2="2382.40" stroke="#000" stroke-width="1.9"/>
<line x1="1010.75" y1="2385.10" x2="1010.75" y2="2382.40" stroke="#000" stroke-width="1.9"/>
<line x1="1028.74" y1="2385.10" x2="1028.74" y2="2382.40" stroke="#000" stroke-width="1.9"/>
<line x1="1046.74" y1="2385.10" x2="1046.74" y2="2378.90" stroke="#000" stroke-width="1.9"/>
<line x1="1064.73" y1="2385.10" x2="1064.73" y2="2382.40" stroke="#000" stroke-width="1.9"/>
<line x1="1082.72" y1="2385.10" x2="1082.72" y2="2382.40" stroke="#000" stroke-width="1.9"/>
<line x1="1100.71" y1="2385.10" x2="1100.71" y2="2382.40" stroke="#000" stroke-width="1.9"/>
<line x1="1118.71" y1="2385.10" x2="1118.71" y2="2382.40" stroke="#000" stroke-width="1.9"/>
<line x1="138.10" y1="1667.60" x2="138.10" y2="1673.80" stroke="#000" stroke-width="1.9"/>
<line x1="153.47" y1="1667.60" x2="153.47" y2="1670.30" stroke="#000" stroke-width="1.9"/>
<line x1="168.83" y1="1667.60" x2="168.83" y2="1670.30" stroke="#000" stroke-width="1.9"/>
<line x1="184.20" y1="1667.60" x2="184.20" y2="1670.30" stroke="#000" stroke-width="1.9"/>
<line x1="199.56" y1="1667.60" x2="199.56" y2="1670.30" stroke="#000" stroke-width="1.9"/>
<line x1="214.93" y1="1667.60" x2="214.93" y2="1673.80" stroke="#000" stroke-width="1.9"/>
<line x1="230.30" y1="1667.60" x2="230.30" y2="1670.30" stroke="#000" stroke-width="1.9"/>
<line x1="245.66" y1="1667.60" x2="245.66" y2="1670.30" stroke="#000" stroke-width="1.9"/>
<line x1="261.03" y1="1667.60" x2="261.03" y2="1670.30" stroke="#000" stroke-width="1.9"/>
<line x1="276.40" y1="1667.60" x2="276.40" y2="1670.30" stroke="#000" stroke-width="1.9"/>
<line x1="291.76" y1="1667.60" x2="291.76" y2="1673.80" stroke="#000" stroke-width="1.9"/>
<line x1="307.13" y1="1667.60" x2="307.13" y2="1670.30" stroke="#000" stroke-width="1.9"/>
<line x1="322.49" y1="1667.60" x2="322.49" y2="1670.30" stroke="#000" stroke-width="1.9"/>
<line x1="337.86" y1="1667.60" x2="337.86" y2="1670.30" stroke="#000" stroke-width="1.9"/>
<line x1="353.23" y1="1667.60" x2="353.23" y2="1670.30" stroke="#000" stroke-width="1.9"/>
<line x1="368.59" y1="1667.60" x2="368.59" y2="1673.80" stroke="#000" stroke-width="1.9"/>
<line x1="383.96" y1="1667.60" x2="383.96" y2="1670.30" stroke="#000" stroke-width="1.9"/>
<line x1="399.32" y1="1667.60" x2="399.32" y2="1670.30" stroke="#000" stroke-width="1.9"/>
<line x1="414.69" y1="1667.60" x2="414.69" y2="1670.30" stroke="#000" stroke-width="1.9"/>
<line x1="430.06" y1="1667.60" x2="430.06" y2="1670.30" stroke="#000" stroke-width="1.9"/>
<line x1="445.42" y1="1667.60" x2="445.42" y2="1673.80" stroke="#000" stroke-width="1.9"/>
<line x1="460.79" y1="1667.60" x2="460.79" y2="1670.30" stroke="#000" stroke-width="1.9"/>
<line x1="476.16" y1="1667.60" x2="476.16" y2="1670.30" stroke="#000" stroke-width="1.9"/>
<line x1="491.52" y1="1667.60" x2="491.52" y2="1670.30" stroke="#000" stroke-width="1.9"/>
<line x1="506.89" y1="1667.60" x2="506.89" y2="1670.30" stroke="#000" stroke-width="1.9"/>
<line x1="522.25" y1="1667.60" x2="522.25" y2="1673.80" stroke="#000" stroke-width="1.9"/>
<line x1="537.62" y1="1667.60" x2="537.62" y2="1670.30" stroke="#000" stroke-width="1.9"/>
<line x1="552.99" y1="1667.60" x2="552.99" y2="1670.30" stroke="#000" stroke-width="1.9"/>
<line x1="568.35" y1="1667.60" x2="568.35" y2="1670.30" stroke="#000" stroke-width="1.9"/>
<line x1="583.72" y1="1667.60" x2="583.72" y2="1670.30" stroke="#000" stroke-width="1.9"/>
<line x1="599.08" y1="1667.60" x2="599.08" y2="1673.80" stroke="#000" stroke-width="1.9"/>
<line x1="614.45" y1="1667.60" x2="614.45" y2="1670.30" stroke="#000" stroke-width="1.9"/>
<line x1="629.82" y1="1667.60" x2="629.82" y2="1670.30" stroke="#000" stroke-width="1.9"/>
<line x1="645.18" y1="1667.60" x2="645.18" y2="1670.30" stroke="#000" stroke-width="1.9"/>
<line x1="660.55" y1="1667.60" x2="660.55" y2="1670.30" stroke="#000" stroke-width="1.9"/>
<line x1="675.92" y1="1667.60" x2="675.92" y2="1673.80" stroke="#000" stroke-width="1.9"/>
<line x1="691.28" y1="1667.60" x2="691.28" y2="1670.30" stroke="#000" stroke-width="1.9"/>
<line x1="706.65" y1="1667.60" x2="706.65" y2="1670.30" stroke="#000" stroke-width="1.9"/>
<line x1="722.01" y1="1667.60" x2="722.01" y2="1670.30" stroke="#000" stroke-width="1.9"/>
<line x1="737.38" y1="1667.60" x2="737.38" y2="1670.30" stroke="#000" stroke-width="1.9"/>
<line x1="752.75" y1="1667.60" x2="752.75" y2="1673.80" stroke="#000" stroke-width="1.9"/>
<line x1="768.11" y1="1667.60" x2="768.11" y2="1670.30" stroke="#000" stroke-width="1.9"/>
<line x1="783.48" y1="1667.60" x2="783.48" y2="1670.30" stroke="#000" stroke-width="1.9"/>
<line x1="798.84" y1="1667.60" x2="798.84" y2="1670.30" stroke="#000" stroke-width="1.9"/>
<line x1="814.21" y1="1667.60" x2="814.21" y2="1670.30" stroke="#000" stroke-width="1.9"/>
<line x1="829.58" y1="1667.60" x2="829.58" y2="1673.80" stroke="#000" stroke-width="1.9"/>
<line x1="844.94" y1="1667.60" x2="844.94" y2="1670.30" stroke="#000" stroke-width="1.9"/>
<line x1="860.31" y1="1667.60" x2="860.31" y2="1670.30" stroke="#000" stroke-width="1.9"/>
<line x1="875.68" y1="1667.60" x2="875.68" y2="1670.30" stroke="#000" stroke-width="1.9"/>
<line x1="891.04" y1="1667.60" x2="891.04" y2="1670.30" stroke="#000" stroke-width="1.9"/>
<line x1="906.41" y1="1667.60" x2="906.41" y2="1673.80" stroke="#000" stroke-width="1.9"/>
<line x1="921.77" y1="1667.60" x2="921.77" y2="1670.30" stroke="#000" stroke-width="1.9"/>
<line x1="937.14" y1="1667.60" x2="937.14" y2="1670.30" stroke="#000" stroke-width="1.9"/>
<line x1="952.51" y1="1667.60" x2="952.51" y2="1670.30" stroke="#000" stroke-width="1.9"/>
<line x1="967.87" y1="1667.60" x2="967.87" y2="1670.30" stroke="#000" stroke-width="1.9"/>
<line x1="983.24" y1="1667.60" x2="983.24" y2="1673.80" stroke="#000" stroke-width="1.9"/>
<line x1="998.60" y1="1667.60" x2="998.60" y2="1670.30" stroke="#000" stroke-width="1.9"/>
<line x1="1013.97" y1="1667.60" x2="1013.97" y2="1670.30" stroke="#000" stroke-width="1.9"/>
<line x1="1029.34" y1="1667.60" x2="1029.34" y2="1670.30" stroke="#000" stroke-width="1.9"/>
<line x1="1044.70" y1="1667.60" x2="1044.70" y2="1670.30" stroke="#000" stroke-width="1.9"/>
<line x1="1060.07" y1="1667.60" x2="1060.07" y2="1673.80" stroke="#000" stroke-width="1.9"/>
<line x1="1075.44" y1="1667.60" x2="1075.44" y2="1670.30" stroke="#000" stroke-width="1.9"/>
<line x1="1090.80" y1="1667.60" x2="1090.80" y2="1670.30" stroke="#000" stroke-width="1.9"/>
<line x1="1106.17" y1="1667.60" x2="1106.17" y2="1670.30" stroke="#000" stroke-width="1.9"/>
<line x1="1121.53" y1="1667.60" x2="1121.53" y2="1670.30" stroke="#000" stroke-width="1.9"/>
<line x1="1136.90" y1="1667.60" x2="1136.90" y2="1673.80" stroke="#000" stroke-width="1.9"/>
<line x1="1136.90" y1="1667.60" x2="1129.70" y2="1667.60" stroke="#000" stroke-width="1.9"/>
<line x1="1136.90" y1="1700.21" x2="1133.50" y2="1700.21" stroke="#000" stroke-width="1.9"/>
<line x1="1136.90" y1="1732.83" x2="1129.70" y2="1732.83" stroke="#000" stroke-width="1.9"/>
<line x1="1136.90" y1="1765.44" x2="1133.50" y2="1765.44" stroke="#000" stroke-width="1.9"/>
<line x1="1136.90" y1="1798.05" x2="1129.70" y2="1798.05" stroke="#000" stroke-width="1.9"/>
<line x1="1136.90" y1="1830.67" x2="1133.50" y2="1830.67" stroke="#000" stroke-width="1.9"/>
<line x1="1136.90" y1="1863.28" x2="1129.70" y2="1863.28" stroke="#000" stroke-width="1.9"/>
<line x1="1136.90" y1="1895.90" x2="1133.50" y2="1895.90" stroke="#000" stroke-width="1.9"/>
<line x1="1136.90" y1="1928.51" x2="1129.70" y2="1928.51" stroke="#000" stroke-width="1.9"/>
<line x1="1136.90" y1="1961.12" x2="1133.50" y2="1961.12" stroke="#000" stroke-width="1.9"/>
<line x1="1136.90" y1="1993.74" x2="1129.70" y2="1993.74" stroke="#000" stroke-width="1.9"/>
<line x1="1136.90" y1="2026.35" x2="1133.50" y2="2026.35" stroke="#000" stroke-width="1.9"/>
<line x1="1136.90" y1="2058.96" x2="1129.70" y2="2058.96" stroke="#000" stroke-width="1.9"/>
<line x1="1136.90" y1="2091.58" x2="1133.50" y2="2091.58" stroke="#000" stroke-width="1.9"/>
<line x1="1136.90" y1="2124.19" x2="1129.70" y2="2124.19" stroke="#000" stroke-width="1.9"/>
<line x1="1136.90" y1="2156.80" x2="1133.50" y2="2156.80" stroke="#000" stroke-width="1.9"/>
<line x1="1136.90" y1="2189.42" x2="1129.70" y2="2189.42" stroke="#000" stroke-width="1.9"/>
<line x1="1136.90" y1="2222.03" x2="1133.50" y2="2222.03" stroke="#000" stroke-width="1.9"/>
<line x1="1136.90" y1="2254.65" x2="1129.70" y2="2254.65" stroke="#000" stroke-width="1.9"/>
<line x1="1136.90" y1="2287.26" x2="1133.50" y2="2287.26" stroke="#000" stroke-width="1.9"/>
<line x1="1136.90" y1="2319.87" x2="1129.70" y2="2319.87" stroke="#000" stroke-width="1.9"/>
<line x1="1136.90" y1="2352.49" x2="1133.50" y2="2352.49" stroke="#000" stroke-width="1.9"/>
<line x1="1136.90" y1="2385.10" x2="1129.70" y2="2385.10" stroke="#000" stroke-width="1.9"/>
<text x="128.2" y="2353.2" text-anchor="end" font-size="24.3" font-family="&apos;Liberation Sans&apos;, sans-serif" stroke="#000" stroke-width="0.35">-2000</text>
<text x="128.2" y="2277.8" text-anchor="end" font-size="24.3" font-family="&apos;Liberation Sans&apos;, sans-serif" stroke="#000" stroke-width="0.35">0</text>
<text x="128.2" y="2202.4" text-anchor="end" font-size="24.3" font-family="&apos;Liberation Sans&apos;, sans-serif" stroke="#000" stroke-width="0.35">2000</text>
<text x="128.2" y="2127.0" text-anchor="end" font-size="24.3" font-family="&apos;Liberation Sans&apos;, sans-serif" stroke="#000" stroke-width="0.35">4000</text>
<text x="128.2" y="2051.6" text-anchor="end" font-size="24.3" font-family="&apos;Liberation Sans&apos;, sans-serif" stroke="#000" stroke-width="0.35">6000</text>
<text x="128.2" y="1976.2" text-anchor="end" font-size="24.3" font-family="&apos;Liberation Sans&apos;, sans-serif" stroke="#000" stroke-width="0.35">8000</text>
<text x="128.2" y="1900.8" text-anchor="end" font-size="24.3" font-family="&apos;Liberation Sans&apos;, sans-serif" stroke="#000" stroke-width="0.35">10000</text>
<text x="128.2" y="1825.4" text-anchor="end" font-size="24.3" font-family="&apos;Liberation Sans&apos;, sans-serif" stroke="#000" stroke-width="0.35">12000</text>
<text x="128.2" y="1750.0" text-anchor="end" font-size="24.3" font-family="&apos;Liberation Sans&apos;, sans-serif" stroke="#000" stroke-width="0.35">14000</text>
<text x="128.2" y="1674.6" text-anchor="end" font-size="24.3" font-family="&apos;Liberation Sans&apos;, sans-serif" stroke="#000" stroke-width="0.35">16000</text>
<text x="148.2" y="2419.4" text-anchor="middle" font-size="24.3" letter-spacing="0.3" font-family="&apos;Liberation Sans&apos;, sans-serif" stroke="#000" stroke-width="0.35">0</text>
<text x="238.2" y="2419.4" text-anchor="middle" font-size="24.3" letter-spacing="0.3" font-family="&apos;Liberation Sans&apos;, sans-serif" stroke="#000" stroke-width="0.35">100</text>
<text x="328.2" y="2419.4" text-anchor="middle" font-size="24.3" letter-spacing="0.3" font-family="&apos;Liberation Sans&apos;, sans-serif" stroke="#000" stroke-width="0.35">200</text>
<text x="418.1" y="2419.4" text-anchor="middle" font-size="24.3" letter-spacing="0.3" font-family="&apos;Liberation Sans&apos;, sans-serif" stroke="#000" stroke-width="0.35">300</text>
<text x="508.1" y="2419.4" text-anchor="middle" font-size="24.3" letter-spacing="0.3" font-family="&apos;Liberation Sans&apos;, sans-serif" stroke="#000" stroke-width="0.35">400</text>
<text x="598.1" y="2419.4" text-anchor="middle" font-size="24.3" letter-spacing="0.3" font-family="&apos;Liberation Sans&apos;, sans-serif" stroke="#000" stroke-width="0.35">500</text>
<text x="688.0" y="2419.4" text-anchor="middle" font-size="24.3" letter-spacing="0.3" font-family="&apos;Liberation Sans&apos;, sans-serif" stroke="#000" stroke-width="0.35">600</text>
<text x="778.0" y="2419.4" text-anchor="middle" font-size="24.3" letter-spacing="0.3" font-family="&apos;Liberation Sans&apos;, sans-serif" stroke="#000" stroke-width="0.35">700</text>
<text x="868.0" y="2419.4" text-anchor="middle" font-size="24.3" letter-spacing="0.3" font-family="&apos;Liberation Sans&apos;, sans-serif" stroke="#000" stroke-width="0.35">800</text>
<text x="957.9" y="2419.4" text-anchor="middle" font-size="24.3" letter-spacing="0.3" font-family="&apos;Liberation Sans&apos;, sans-serif" stroke="#000" stroke-width="0.35">900</text>
<text x="1047.9" y="2419.4" text-anchor="middle" font-size="24.3" letter-spacing="0.3" font-family="&apos;Liberation Sans&apos;, sans-serif" stroke="#000" stroke-width="0.35">1000</text>
<text x="1137.9" y="2419.4" text-anchor="middle" font-size="24.3" letter-spacing="0.3" font-family="&apos;Liberation Sans&apos;, sans-serif" stroke="#000" stroke-width="0.35">1100</text>
<circle cx="148.3" cy="1700.6" r="6.0" fill="none" stroke="#5555ff" stroke-width="1.15"/>
<circle cx="198.2" cy="1793.9" r="6.0" fill="none" stroke="#5555ff" stroke-width="1.15"/>
<circle cx="148.4" cy="1905.1" r="6.0" fill="none" stroke="#5555ff" stroke-width="1.15"/>
<circle cx="148.4" cy="2130.2" r="6.0" fill="none" stroke="#5555ff" stroke-width="1.15"/>
<circle cx="148.4" cy="2160.9" r="6.0" fill="none" stroke="#5555ff" stroke-width="1.15"/>
<circle cx="148.4" cy="2172.9" r="6.0" fill="none" stroke="#5555ff" stroke-width="1.15"/>
<circle cx="148.4" cy="2198.5" r="6.0" fill="none" stroke="#5555ff" stroke-width="1.15"/>
<circle cx="148.4" cy="2206.9" r="6.0" fill="none" stroke="#5555ff" stroke-width="1.15"/>
<circle cx="148.4" cy="2216.6" r="6.0" fill="none" stroke="#5555ff" stroke-width="1.15"/>
<circle cx="148.4" cy="2240.2" r="6.0" fill="none" stroke="#5555ff" stroke-width="1.15"/>
<circle cx="148.4" cy="2249.1" r="6.0" fill="none" stroke="#5555ff" stroke-width="1.15"/>
<circle cx="148.4" cy="2254.2" r="6.0" fill="none" stroke="#5555ff" stroke-width="1.15"/>
<circle cx="148.4" cy="2261.1" r="6.0" fill="none" stroke="#5555ff" stroke-width="1.15"/>
<circle cx="148.4" cy="2311.8" r="6.0" fill="none" stroke="#5555ff" stroke-width="1.15"/>
<circle cx="165.8" cy="2270.3" r="6.0" fill="none" stroke="#5555ff" stroke-width="1.15"/>
<circle cx="162.0" cy="2291.8" r="6.0" fill="none" stroke="#5555ff" stroke-width="1.15"/>
<circle cx="214.4" cy="2265.2" r="6.0" fill="none" stroke="#5555ff" stroke-width="1.15"/>
<circle cx="219.0" cy="2291.8" r="6.0" fill="none" stroke="#5555ff" stroke-width="1.15"/>
<circle cx="234.3" cy="2193.1" r="6.0" fill="none" stroke="#5555ff" stroke-width="1.15"/>
<circle cx="240.5" cy="2110.2" r="6.0" fill="none" stroke="#5555ff" stroke-width="1.15"/>
<circle cx="247.6" cy="2092.3" r="6.0" fill="none" stroke="#5555ff" stroke-width="1.15"/>
<circle cx="240.5" cy="2214.6" r="6.0" fill="none" stroke="#5555ff" stroke-width="1.15"/>
<circle cx="255.3" cy="2139.1" r="6.0" fill="none" stroke="#5555ff" stroke-width="1.15"/>
<circle cx="255.3" cy="2259.8" r="6.0" fill="none" stroke="#5555ff" stroke-width="1.15"/>
<circle cx="255.3" cy="2277.2" r="6.0" fill="none" stroke="#5555ff" stroke-width="1.15"/>
<circle cx="255.3" cy="2284.4" r="6.0" fill="none" stroke="#5555ff" stroke-width="1.15"/>
<circle cx="272.7" cy="2221.5" r="6.0" fill="none" stroke="#5555ff" stroke-width="1.15"/>
<circle cx="272.7" cy="2241.4" r="6.0" fill="none" stroke="#5555ff" stroke-width="1.15"/>
<circle cx="280.4" cy="2245.3" r="6.0" fill="none" stroke="#5555ff" stroke-width="1.15"/>
<circle cx="272.7" cy="2291.8" r="6.0" fill="none" stroke="#5555ff" stroke-width="1.15"/>
<circle cx="288.1" cy="2307.9" r="6.0" fill="none" stroke="#5555ff" stroke-width="1.15"/>
<circle cx="291.9" cy="2299.0" r="6.0" fill="none" stroke="#5555ff" stroke-width="1.15"/>
<circle cx="301.4" cy="2270.1" r="6.0" fill="none" stroke="#5555ff" stroke-width="1.15"/>
<circle cx="328.2" cy="2241.4" r="6.0" fill="none" stroke="#5555ff" stroke-width="1.15"/>
<circle cx="333.8" cy="2279.0" r="6.0" fill="none" stroke="#5555ff" stroke-width="1.15"/>
<circle cx="333.8" cy="2291.8" r="6.0" fill="none" stroke="#5555ff" stroke-width="1.15"/>
<circle cx="328.2" cy="2304.6" r="6.0" fill="none" stroke="#5555ff" stroke-width="1.15"/>
<circle cx="328.2" cy="2313.0" r="6.0" fill="none" stroke="#5555ff" stroke-width="1.15"/>
<circle cx="328.2" cy="2315.6" r="6.0" fill="none" stroke="#5555ff" stroke-width="1.15"/>
<circle cx="345.3" cy="2299.0" r="6.0" fill="none" stroke="#5555ff" stroke-width="1.15"/>
<circle cx="362.7" cy="2290.0" r="6.0" fill="none" stroke="#5555ff" stroke-width="1.15"/>
<circle cx="362.7" cy="2313.0" r="6.0" fill="none" stroke="#5555ff" stroke-width="1.15"/>
<circle cx="399.8" cy="2277.2" r="6.0" fill="none" stroke="#5555ff" stroke-width="1.15"/>
<circle cx="435.9" cy="2225.8" r="6.0" fill="none" stroke="#5555ff" stroke-width="1.15"/>
<circle cx="435.9" cy="2228.9" r="6.0" fill="none" stroke="#5555ff" stroke-width="1.15"/>
<circle cx="443.6" cy="2286.3" r="6.0" fill="none" stroke="#5555ff" stroke-width="1.15"/>
<circle cx="452.8" cy="2315.8" r="6.0" fill="none" stroke="#5555ff" stroke-width="1.15"/>
<circle cx="468.4" cy="2308.7" r="6.0" fill="none" stroke="#5555ff" stroke-width="1.15"/>
<circle cx="489.6" cy="2304.1" r="6.0" fill="none" stroke="#5555ff" stroke-width="1.15"/>
<circle cx="506.8" cy="2270.3" r="6.0" fill="none" stroke="#5555ff" stroke-width="1.15"/>
<circle cx="514.5" cy="2259.6" r="6.0" fill="none" stroke="#5555ff" stroke-width="1.15"/>
<circle cx="514.5" cy="2299.5" r="6.0" fill="none" stroke="#5555ff" stroke-width="1.15"/>
<circle cx="506.8" cy="2317.3" r="6.0" fill="none" stroke="#5555ff" stroke-width="1.15"/>
<circle cx="579.6" cy="2281.1" r="6.0" fill="none" stroke="#5555ff" stroke-width="1.15"/>
<circle cx="579.6" cy="2310.3" r="6.0" fill="none" stroke="#5555ff" stroke-width="1.15"/>
<circle cx="587.8" cy="2315.8" r="6.0" fill="none" stroke="#5555ff" stroke-width="1.15"/>
<circle cx="579.6" cy="2322.5" r="6.0" fill="none" stroke="#5555ff" stroke-width="1.15"/>
<circle cx="615.8" cy="2291.8" r="6.0" fill="none" stroke="#5555ff" stroke-width="1.15"/>
<circle cx="687.0" cy="2196.7" r="6.0" fill="none" stroke="#5555ff" stroke-width="1.15"/>
<circle cx="687.0" cy="2318.8" r="6.0" fill="none" stroke="#5555ff" stroke-width="1.15"/>
<circle cx="867.0" cy="2070.9" r="6.0" fill="none" stroke="#5555ff" stroke-width="1.15"/>
<circle cx="867.0" cy="2318.9" r="6.0" fill="none" stroke="#5555ff" stroke-width="1.15"/>
<circle cx="1047.1" cy="2311.9" r="6.0" fill="none" stroke="#5555ff" stroke-width="1.15"/>
<circle cx="1047.1" cy="2318.9" r="6.0" fill="none" stroke="#5555ff" stroke-width="1.15"/>
<path d="M146.9,2171.8 L161.2,2277.9 L197.0,1968.4 L218.5,2270.2 L240.5,2162.8 L247.1,2171.8 L255.3,2225.5 L279.6,2261.3 L289.8,2297.1 L300.8,2274.1 L326.9,2289.4 L333.8,2285.6 L344.8,2294.0 L360.2,2299.1 L369.1,2295.8 L399.8,2272.0 L435.3,2233.2 L452.8,2311.4 L468.4,2304.4 L489.6,2300.7 L505.9,2289.9 L515.1,2277.0 L578.9,2301.6 L585.7,2312.0 L615.8,2288.4 L687.0,2253.1 L760.0,2228.5 L867.0,2191.9 L1046.4,2312.6" fill="none" stroke="#ff0000" stroke-width="1.8" stroke-linejoin="round" stroke-dasharray="9.4 6"/>
<path d="M148.4,2176.2 L162.7,2282.3 L198.5,1972.8 L220.0,2274.6 L242.0,2167.2 L248.6,2176.2 L256.8,2229.9 L281.1,2265.7 L291.3,2301.5 L302.3,2278.5 L328.4,2293.8 L335.3,2290.0 L346.3,2298.4 L361.7,2303.5 L370.6,2300.2 L401.3,2276.4 L436.8,2237.6 L454.3,2315.8 L469.9,2308.8 L491.1,2305.1 L507.4,2294.3 L516.6,2281.4 L580.4,2306.0 L587.2,2316.4 L617.3,2292.8 L688.5,2257.5 L761.5,2232.9 L868.5,2196.3 L1047.9,2317.0" fill="none" stroke="#ff0000" stroke-width="1.8" stroke-linejoin="round" stroke-dasharray="9.4 6"/>
<path d="M146.9,2173.7 L161.2,2279.8 L197.0,1970.3 L218.5,2272.1 L240.5,2164.7 L247.1,2173.7 L255.3,2227.4 L279.6,2263.2 L289.8,2299.0 L300.8,2276.0 L326.9,2291.3 L333.8,2287.5 L344.8,2295.9 L360.2,2301.0 L369.1,2297.7 L399.8,2273.9 L435.3,2235.1 L452.8,2313.3 L468.4,2306.3 L489.6,2302.6 L505.9,2291.8 L515.1,2278.9 L578.9,2303.5 L585.7,2313.9 L615.8,2290.3 L687.0,2255.0 L760.0,2230.4 L867.0,2193.8 L1046.4,2314.5" fill="none" stroke="#ff0000" stroke-width="2.2" stroke-linejoin="round"/>
<rect x="138.10" y="1667.60" width="998.80" height="717.50" fill="none" stroke="#000" stroke-width="2.3"/>
<text transform="translate(40.6,2229.6) rotate(-90)" text-anchor="start" font-size="24.5" font-weight="bold" textLength="390" lengthAdjust="spacingAndGlyphs" font-family="&apos;Liberation Sans&apos;, sans-serif">Partial residual (Herb density/100m</text>
<text transform="translate(40.6,2229.6) rotate(-90)" x="390.6" y="-11.8" font-size="16.2" stroke="#000" stroke-width="0.5" font-family="&apos;Liberation Sans&apos;, sans-serif">2</text>
<text transform="translate(40.6,2229.6) rotate(-90)" x="400.2" y="0" font-size="23" stroke="#000" stroke-width="0.4" font-family="&apos;Liberation Sans&apos;, sans-serif">)</text>
<text x="498.2" y="2466.6" text-anchor="start" font-size="25" font-weight="bold" textLength="267.2" lengthAdjust="spacingAndGlyphs" font-family="&apos;Liberation Sans&apos;, sans-serif">Bamboo Density/100m</text>
<text x="766.8" y="2457.1" font-size="16.2" stroke="#000" stroke-width="0.5" font-family="&apos;Liberation Sans&apos;, sans-serif">2</text>
</g>
</svg>
</body></html>
